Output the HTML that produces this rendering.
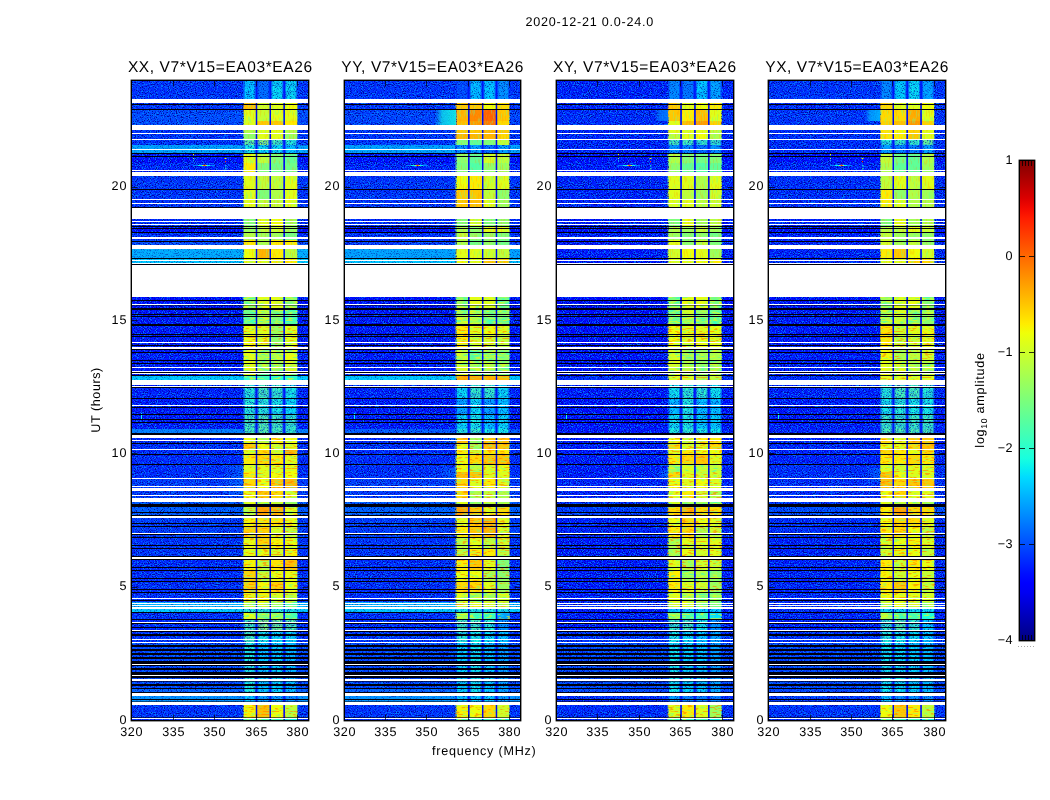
<!DOCTYPE html>
<html><head><meta charset="utf-8"><title>2020-12-21 0.0-24.0</title>
<style>
html,body{margin:0;padding:0;background:#fff;}
body{width:1050px;height:800px;overflow:hidden;}
svg{display:block;will-change:transform;}
text{font-family:"Liberation Sans",sans-serif;fill:#000;text-rendering:geometricPrecision;}
</style></head><body>
<svg width="1050" height="800" viewBox="0 0 1050 800">
<defs>
<filter id="nz" x="0" y="0" width="100%" height="100%" color-interpolation-filters="sRGB">
<feTurbulence type="fractalNoise" baseFrequency="0.85 0.9" numOctaves="2" seed="7"/>
<feColorMatrix type="matrix" values="2.6 0 0 0 -0.77  2.6 0 0 0 -0.77  2.6 0 0 0 -0.77  2.6 0 0 0 -0.77"/>
<feComponentTransfer>
<feFuncR type="table" tableValues="0 0 0 0 0 0 0"/>
<feFuncG type="table" tableValues="0 0 0 0.22 0.33 0.43 0.54"/>
<feFuncB type="table" tableValues="0.55 0.65 0.85 1 1 1 1"/>
<feFuncA type="table" tableValues="0.85 0.6 0.3 0 0.35 0.6 0.8"/>
</feComponentTransfer>
</filter>
<filter id="nzh" x="0" y="0" width="100%" height="100%" color-interpolation-filters="sRGB">
<feTurbulence type="fractalNoise" baseFrequency="0.16 0.7" numOctaves="2" seed="5"/>
<feColorMatrix type="matrix" values="2.6 0 0 0 -0.8  2.6 0 0 0 -0.8  2.6 0 0 0 -0.8  2.6 0 0 0 -0.8"/>
<feComponentTransfer>
<feFuncR type="table" tableValues="0.3 0.5 0.8 1 1 1 1"/>
<feFuncG type="table" tableValues="1 1 1 1 0.75 0.6 0.5"/>
<feFuncB type="table" tableValues="0.7 0.5 0.2 0 0 0 0"/>
<feFuncA type="table" tableValues="0.4 0.22 0.06 0 0.08 0.35 0.62"/>
</feComponentTransfer>
</filter>
<filter id="nzy" x="0" y="0" width="100%" height="100%" color-interpolation-filters="sRGB">
<feTurbulence type="fractalNoise" baseFrequency="0.16 0.7" numOctaves="2" seed="5"/>
<feColorMatrix type="matrix" values="2.6 0 0 0 -0.8  2.6 0 0 0 -0.8  2.6 0 0 0 -0.8  2.6 0 0 0 -0.8"/>
<feComponentTransfer>
<feFuncR type="table" tableValues="0 0.1 0.3 1 1 1 1"/>
<feFuncG type="table" tableValues="1 1 1 1 1 1 0.95"/>
<feFuncB type="table" tableValues="1 0.9 0.7 0 0 0 0"/>
<feFuncA type="table" tableValues="0.4 0.22 0.06 0 0.08 0.35 0.6"/>
</feComponentTransfer>
</filter>
<filter id="nzb" x="0" y="0" width="100%" height="100%" color-interpolation-filters="sRGB">
<feTurbulence type="fractalNoise" baseFrequency="0.75 0.12" numOctaves="2" seed="11"/>
<feColorMatrix type="matrix" values="2.6 0 0 0 -0.8  2.6 0 0 0 -0.8  2.6 0 0 0 -0.8  2.6 0 0 0 -0.8"/>
<feComponentTransfer>
<feFuncR type="table" tableValues="0.4 0.55 0.8 1 1 1 1"/>
<feFuncG type="table" tableValues="1 1 1 1 0.85 0.7 0.6"/>
<feFuncB type="table" tableValues="0.6 0.45 0.2 0 0 0 0"/>
<feFuncA type="table" tableValues="0.35 0.2 0.08 0 0.05 0.14 0.25"/>
</feComponentTransfer>
</filter>
<linearGradient id="cb" x1="0" y1="1" x2="0" y2="0"><stop offset="0%" stop-color="#000080"/><stop offset="2%" stop-color="#000097"/><stop offset="4%" stop-color="#0000ae"/><stop offset="6%" stop-color="#0000c5"/><stop offset="8%" stop-color="#0000dc"/><stop offset="10%" stop-color="#0000f3"/><stop offset="12%" stop-color="#0000ff"/><stop offset="14%" stop-color="#000fff"/><stop offset="16%" stop-color="#0024ff"/><stop offset="18%" stop-color="#0038ff"/><stop offset="20%" stop-color="#004dff"/><stop offset="22%" stop-color="#0061ff"/><stop offset="24%" stop-color="#0075ff"/><stop offset="26%" stop-color="#008aff"/><stop offset="28%" stop-color="#009eff"/><stop offset="30%" stop-color="#00b2ff"/><stop offset="32%" stop-color="#00c7ff"/><stop offset="34%" stop-color="#00dbff"/><stop offset="36%" stop-color="#08f0ef"/><stop offset="38%" stop-color="#19ffde"/><stop offset="40%" stop-color="#29ffce"/><stop offset="42%" stop-color="#3affbd"/><stop offset="44%" stop-color="#4affad"/><stop offset="46%" stop-color="#5aff9c"/><stop offset="48%" stop-color="#6bff8c"/><stop offset="50%" stop-color="#7bff7b"/><stop offset="52%" stop-color="#8cff6b"/><stop offset="54%" stop-color="#9cff5a"/><stop offset="56%" stop-color="#adff4a"/><stop offset="58%" stop-color="#bdff3a"/><stop offset="60%" stop-color="#ceff29"/><stop offset="62%" stop-color="#deff19"/><stop offset="64%" stop-color="#efff08"/><stop offset="66%" stop-color="#ffec00"/><stop offset="68%" stop-color="#ffd900"/><stop offset="70%" stop-color="#ffc600"/><stop offset="72%" stop-color="#ffb300"/><stop offset="74%" stop-color="#ffa100"/><stop offset="76%" stop-color="#ff8e00"/><stop offset="78%" stop-color="#ff7b00"/><stop offset="80%" stop-color="#ff6800"/><stop offset="82%" stop-color="#ff5500"/><stop offset="84%" stop-color="#ff4200"/><stop offset="86%" stop-color="#ff2f00"/><stop offset="88%" stop-color="#ff1c00"/><stop offset="90%" stop-color="#f30900"/><stop offset="92%" stop-color="#dc0000"/><stop offset="94%" stop-color="#c50000"/><stop offset="96%" stop-color="#ae0000"/><stop offset="98%" stop-color="#970000"/><stop offset="100%" stop-color="#800000"/></linearGradient>
<clipPath id="cp0"><rect x="132" y="81" width="176" height="639"/></clipPath>
<clipPath id="cp1"><rect x="345" y="81" width="175" height="639"/></clipPath>
<clipPath id="cp2"><rect x="557" y="81" width="176" height="639"/></clipPath>
<clipPath id="cp3"><rect x="769" y="81" width="176" height="639"/></clipPath>
<linearGradient id="bl1" x1="0" x2="1" y1="0" y2="0"><stop offset="0" stop-color="#10fae6" stop-opacity="0"/><stop offset="0.35" stop-color="#10fae6" stop-opacity="0.8"/><stop offset="1" stop-color="#10fae6"/></linearGradient>
<linearGradient id="bl2" x1="0" x2="1" y1="0" y2="0"><stop offset="0" stop-color="#0080ff" stop-opacity="0"/><stop offset="0.35" stop-color="#0080ff" stop-opacity="0.8"/><stop offset="1" stop-color="#0080ff"/></linearGradient>
<linearGradient id="bl3" x1="0" x2="1" y1="0" y2="0"><stop offset="0" stop-color="#00bdff" stop-opacity="0"/><stop offset="0.35" stop-color="#00bdff" stop-opacity="0.8"/><stop offset="1" stop-color="#00bdff"/></linearGradient>
<linearGradient id="glw" x1="0" x2="1" y1="0" y2="0"><stop offset="0" stop-color="#0078ff" stop-opacity="0"/><stop offset="1" stop-color="#0078ff" stop-opacity="0.75"/></linearGradient>
</defs>
<rect width="1050" height="800" fill="#fff"/>
<g clip-path="url(#cp0)">
<rect x="131" y="80" width="178" height="641" fill="#0019ff"/>
<rect x="131" y="80" width="178" height="23" fill="#002eff"/><rect x="243.3" y="80" width="12.55" height="23" fill="#00dbff"/><rect x="257.15" y="80" width="12.55" height="23" fill="#0075ff"/><rect x="271" y="80" width="12.55" height="23" fill="#08f0ef"/><rect x="284.85" y="80" width="12.55" height="23" fill="#08f0ef"/>
<rect x="131" y="103" width="178" height="7" fill="#002eff"/><rect x="243.3" y="103" width="12.55" height="7" fill="#ffbd00"/><rect x="257.15" y="103" width="12.55" height="7" fill="#ceff29"/><rect x="271" y="103" width="12.55" height="7" fill="#deff19"/><rect x="284.85" y="103" width="12.55" height="7" fill="#efff08"/>
<rect x="131" y="110" width="178" height="11" fill="#004dff"/><rect x="243.3" y="110" width="12.55" height="11" fill="#deff19"/><rect x="257.15" y="110" width="12.55" height="11" fill="#c5ff31"/><rect x="271" y="110" width="12.55" height="11" fill="#deff19"/><rect x="284.85" y="110" width="12.55" height="11" fill="#deff19"/>
<rect x="131" y="121" width="178" height="9" fill="#004dff"/><rect x="243.3" y="121" width="12.55" height="9" fill="#deff19"/><rect x="257.15" y="121" width="12.55" height="9" fill="#ffc600"/><rect x="271" y="121" width="12.55" height="9" fill="#ffc600"/><rect x="284.85" y="121" width="12.55" height="9" fill="#ffec00"/>
<rect x="131" y="130" width="178" height="4" fill="#002eff"/><rect x="243.3" y="130" width="12.55" height="4" fill="#adff4a"/><rect x="257.15" y="130" width="12.55" height="4" fill="#deff19"/><rect x="271" y="130" width="12.55" height="4" fill="#deff19"/><rect x="284.85" y="130" width="12.55" height="4" fill="#adff4a"/>
<rect x="131" y="134" width="178" height="6" fill="#002eff"/><rect x="243.3" y="134" width="12.55" height="6" fill="#8cff6b"/><rect x="257.15" y="134" width="12.55" height="6" fill="#deff19"/><rect x="271" y="134" width="12.55" height="6" fill="#deff19"/><rect x="284.85" y="134" width="12.55" height="6" fill="#9cff5a"/>
<rect x="131" y="140" width="178" height="5" fill="#002eff"/><rect x="243.3" y="140" width="12.55" height="5" fill="#6bff8c"/><rect x="257.15" y="140" width="12.55" height="5" fill="#8cff6b"/><rect x="271" y="140" width="12.55" height="5" fill="#4affad"/><rect x="284.85" y="140" width="12.55" height="5" fill="#29ffce"/>
<rect x="131" y="145" width="178" height="8" fill="#00b2ff"/><rect x="243.3" y="145" width="12.55" height="8" fill="#19ffde"/><rect x="257.15" y="145" width="12.55" height="8" fill="#08f0ef"/><rect x="271" y="145" width="12.55" height="8" fill="#08f0ef"/><rect x="284.85" y="145" width="12.55" height="8" fill="#00dbff"/>
<rect x="131" y="153" width="178" height="10" fill="#0005ff"/><rect x="243.3" y="153" width="12.55" height="10" fill="#deff19"/><rect x="257.15" y="153" width="12.55" height="10" fill="#bdff3a"/><rect x="271" y="153" width="12.55" height="10" fill="#7bff7b"/><rect x="284.85" y="153" width="12.55" height="10" fill="#5aff9c"/>
<rect x="131" y="163" width="178" height="13" fill="#0019ff"/><rect x="243.3" y="163" width="12.55" height="13" fill="#ffec00"/><rect x="257.15" y="163" width="12.55" height="13" fill="#7bff7b"/><rect x="271" y="163" width="12.55" height="13" fill="#6bff8c"/><rect x="284.85" y="163" width="12.55" height="13" fill="#6bff8c"/>
<rect x="131" y="176" width="178" height="13" fill="#002eff"/><rect x="243.3" y="176" width="12.55" height="13" fill="#deff19"/><rect x="257.15" y="176" width="12.55" height="13" fill="#bdff3a"/><rect x="271" y="176" width="12.55" height="13" fill="#bdff3a"/><rect x="284.85" y="176" width="12.55" height="13" fill="#deff19"/>
<rect x="131" y="189" width="178" height="10" fill="#002eff"/><rect x="243.3" y="189" width="12.55" height="10" fill="#deff19"/><rect x="257.15" y="189" width="12.55" height="10" fill="#7bff7b"/><rect x="271" y="189" width="12.55" height="10" fill="#adff4a"/><rect x="284.85" y="189" width="12.55" height="10" fill="#deff19"/>
<rect x="131" y="199" width="178" height="20" fill="#002eff"/><rect x="243.3" y="199" width="12.55" height="20" fill="#deff19"/><rect x="257.15" y="199" width="12.55" height="20" fill="#bdff3a"/><rect x="271" y="199" width="12.55" height="20" fill="#bdff3a"/><rect x="284.85" y="199" width="12.55" height="20" fill="#deff19"/>
<rect x="131" y="219" width="178" height="7" fill="#0024ff"/><rect x="243.3" y="219" width="12.55" height="7" fill="#7bff7b"/><rect x="257.15" y="219" width="12.55" height="7" fill="#deff19"/><rect x="271" y="219" width="12.55" height="7" fill="#efff08"/><rect x="284.85" y="219" width="12.55" height="7" fill="#9cff5a"/>
<rect x="131" y="226" width="178" height="6" fill="#0000ff"/><rect x="243.3" y="226" width="12.55" height="6" fill="#9cff5a"/><rect x="257.15" y="226" width="12.55" height="6" fill="#bdff3a"/><rect x="271" y="226" width="12.55" height="6" fill="#ceff29"/><rect x="284.85" y="226" width="12.55" height="6" fill="#9cff5a"/>
<rect x="131" y="232" width="178" height="8" fill="#0024ff"/><rect x="243.3" y="232" width="12.55" height="8" fill="#adff4a"/><rect x="257.15" y="232" width="12.55" height="8" fill="#9cff5a"/><rect x="271" y="232" width="12.55" height="8" fill="#9cff5a"/><rect x="284.85" y="232" width="12.55" height="8" fill="#6bff8c"/>
<rect x="131" y="240" width="178" height="9" fill="#004dff"/><rect x="243.3" y="240" width="12.55" height="9" fill="#ffec00"/><rect x="257.15" y="240" width="12.55" height="9" fill="#adff4a"/><rect x="271" y="240" width="12.55" height="9" fill="#ffec00"/><rect x="284.85" y="240" width="12.55" height="9" fill="#ffec00"/>
<rect x="131" y="249" width="178" height="9" fill="#00bdff"/><rect x="243.3" y="249" width="12.55" height="9" fill="#efff08"/><rect x="257.15" y="249" width="12.55" height="9" fill="#ffb300"/><rect x="271" y="249" width="12.55" height="9" fill="#ffec00"/><rect x="284.85" y="249" width="12.55" height="9" fill="#bdff3a"/>
<rect x="131" y="258" width="178" height="39" fill="#00dbff"/><rect x="243.3" y="258" width="12.55" height="39" fill="#deff19"/><rect x="257.15" y="258" width="12.55" height="39" fill="#deff19"/><rect x="271" y="258" width="12.55" height="39" fill="#ffec00"/><rect x="284.85" y="258" width="12.55" height="39" fill="#ffec00"/>
<rect x="131" y="297" width="178" height="12" fill="#0005ff"/><rect x="243.3" y="297" width="12.55" height="12" fill="#8cff6b"/><rect x="257.15" y="297" width="12.55" height="12" fill="#deff19"/><rect x="271" y="297" width="12.55" height="12" fill="#deff19"/><rect x="284.85" y="297" width="12.55" height="12" fill="#8cff6b"/>
<rect x="131" y="309" width="178" height="7" fill="#000fff"/><rect x="243.3" y="309" width="12.55" height="7" fill="#6bff8c"/><rect x="257.15" y="309" width="12.55" height="7" fill="#adff4a"/><rect x="271" y="309" width="12.55" height="7" fill="#7bff7b"/><rect x="284.85" y="309" width="12.55" height="7" fill="#5aff9c"/>
<rect x="131" y="316" width="178" height="9" fill="#000fff"/><rect x="243.3" y="316" width="12.55" height="9" fill="#5aff9c"/><rect x="257.15" y="316" width="12.55" height="9" fill="#adff4a"/><rect x="271" y="316" width="12.55" height="9" fill="#7bff7b"/><rect x="284.85" y="316" width="12.55" height="9" fill="#4affad"/>
<rect x="131" y="325" width="178" height="10" fill="#000fff"/><rect x="243.3" y="325" width="12.55" height="10" fill="#e6ff10"/><rect x="257.15" y="325" width="12.55" height="10" fill="#deff19"/><rect x="271" y="325" width="12.55" height="10" fill="#9cff5a"/><rect x="284.85" y="325" width="12.55" height="10" fill="#deff19"/>
<rect x="131" y="335" width="178" height="14" fill="#000fff"/><rect x="243.3" y="335" width="12.55" height="14" fill="#efff08"/><rect x="257.15" y="335" width="12.55" height="14" fill="#deff19"/><rect x="271" y="335" width="12.55" height="14" fill="#8cff6b"/><rect x="284.85" y="335" width="12.55" height="14" fill="#deff19"/>
<rect x="131" y="349" width="178" height="11" fill="#000fff"/><rect x="243.3" y="349" width="12.55" height="11" fill="#deff19"/><rect x="257.15" y="349" width="12.55" height="11" fill="#adff4a"/><rect x="271" y="349" width="12.55" height="11" fill="#adff4a"/><rect x="284.85" y="349" width="12.55" height="11" fill="#deff19"/>
<rect x="131" y="360" width="178" height="15" fill="#000fff"/><rect x="243.3" y="360" width="12.55" height="15" fill="#deff19"/><rect x="257.15" y="360" width="12.55" height="15" fill="#9cff5a"/><rect x="271" y="360" width="12.55" height="15" fill="#9cff5a"/><rect x="284.85" y="360" width="12.55" height="15" fill="#ceff29"/>
<rect x="131" y="375" width="178" height="10" fill="#00dbff"/><rect x="243.3" y="375" width="12.55" height="10" fill="#3affbd"/><rect x="257.15" y="375" width="12.55" height="10" fill="#3affbd"/><rect x="271" y="375" width="12.55" height="10" fill="#29ffce"/><rect x="284.85" y="375" width="12.55" height="10" fill="#29ffce"/>
<rect x="131" y="385" width="178" height="13" fill="#0019ff"/><rect x="243.3" y="385" width="12.55" height="13" fill="#29ffce"/><rect x="257.15" y="385" width="12.55" height="13" fill="#4affad"/><rect x="271" y="385" width="12.55" height="13" fill="#3affbd"/><rect x="284.85" y="385" width="12.55" height="13" fill="#19ffde"/>
<rect x="131" y="398" width="178" height="16" fill="#000fff"/><rect x="243.3" y="398" width="12.55" height="16" fill="#29ffce"/><rect x="257.15" y="398" width="12.55" height="16" fill="#29ffce"/><rect x="271" y="398" width="12.55" height="16" fill="#19ffde"/><rect x="284.85" y="398" width="12.55" height="16" fill="#08f0ef"/>
<rect x="131" y="414" width="178" height="15" fill="#000fff"/><rect x="243.3" y="414" width="12.55" height="15" fill="#4affad"/><rect x="257.15" y="414" width="12.55" height="15" fill="#5aff9c"/><rect x="271" y="414" width="12.55" height="15" fill="#4affad"/><rect x="284.85" y="414" width="12.55" height="15" fill="#3affbd"/>
<rect x="131" y="429" width="178" height="9" fill="#008aff"/><rect x="243.3" y="429" width="12.55" height="9" fill="#4affad"/><rect x="257.15" y="429" width="12.55" height="9" fill="#5aff9c"/><rect x="271" y="429" width="12.55" height="9" fill="#4affad"/><rect x="284.85" y="429" width="12.55" height="9" fill="#3affbd"/>
<rect x="131" y="438" width="178" height="5" fill="#0024ff"/><rect x="243.3" y="438" width="12.55" height="5" fill="#efff08"/><rect x="257.15" y="438" width="12.55" height="5" fill="#bdff3a"/><rect x="271" y="438" width="12.55" height="5" fill="#ffec00"/><rect x="284.85" y="438" width="12.55" height="5" fill="#efff08"/>
<rect x="131" y="443" width="178" height="6" fill="#0024ff"/><rect x="243.3" y="443" width="12.55" height="6" fill="#ffc600"/><rect x="257.15" y="443" width="12.55" height="6" fill="#efff08"/><rect x="271" y="443" width="12.55" height="6" fill="#ceff29"/><rect x="284.85" y="443" width="12.55" height="6" fill="#deff19"/>
<rect x="131" y="449" width="178" height="5" fill="#0024ff"/><rect x="243.3" y="449" width="12.55" height="5" fill="#deff19"/><rect x="257.15" y="449" width="12.55" height="5" fill="#ffd900"/><rect x="271" y="449" width="12.55" height="5" fill="#ceff29"/><rect x="284.85" y="449" width="12.55" height="5" fill="#ffb300"/>
<rect x="131" y="454" width="178" height="10" fill="#0024ff"/><rect x="243.3" y="454" width="12.55" height="10" fill="#ffec00"/><rect x="257.15" y="454" width="12.55" height="10" fill="#ffd900"/><rect x="271" y="454" width="12.55" height="10" fill="#ffec00"/><rect x="284.85" y="454" width="12.55" height="10" fill="#deff19"/>
<rect x="131" y="464" width="178" height="8" fill="#0024ff"/><rect x="243.3" y="464" width="12.55" height="8" fill="#deff19"/><rect x="257.15" y="464" width="12.55" height="8" fill="#deff19"/><rect x="271" y="464" width="12.55" height="8" fill="#deff19"/><rect x="284.85" y="464" width="12.55" height="8" fill="#efff08"/>
<rect x="131" y="472" width="178" height="6" fill="#0024ff"/><rect x="243.3" y="472" width="12.55" height="6" fill="#ffec00"/><rect x="257.15" y="472" width="12.55" height="6" fill="#deff19"/><rect x="271" y="472" width="12.55" height="6" fill="#efff08"/><rect x="284.85" y="472" width="12.55" height="6" fill="#efff08"/>
<rect x="131" y="478" width="178" height="10" fill="#0038ff"/><rect x="243.3" y="478" width="12.55" height="10" fill="#ffd900"/><rect x="257.15" y="478" width="12.55" height="10" fill="#efff08"/><rect x="271" y="478" width="12.55" height="10" fill="#ffc600"/><rect x="284.85" y="478" width="12.55" height="10" fill="#ffb300"/>
<rect x="131" y="488" width="178" height="10" fill="#0038ff"/><rect x="243.3" y="488" width="12.55" height="10" fill="#efff08"/><rect x="257.15" y="488" width="12.55" height="10" fill="#ffc600"/><rect x="271" y="488" width="12.55" height="10" fill="#ffd900"/><rect x="284.85" y="488" width="12.55" height="10" fill="#deff19"/>
<rect x="131" y="498" width="178" height="7" fill="#0061ff"/><rect x="243.3" y="498" width="12.55" height="7" fill="#deff19"/><rect x="257.15" y="498" width="12.55" height="7" fill="#bdff3a"/><rect x="271" y="498" width="12.55" height="7" fill="#bdff3a"/><rect x="284.85" y="498" width="12.55" height="7" fill="#8cff6b"/>
<rect x="131" y="505" width="178" height="10" fill="#0061ff"/><rect x="243.3" y="505" width="12.55" height="10" fill="#bdff3a"/><rect x="257.15" y="505" width="12.55" height="10" fill="#ffa100"/><rect x="271" y="505" width="12.55" height="10" fill="#ffb300"/><rect x="284.85" y="505" width="12.55" height="10" fill="#deff19"/>
<rect x="131" y="515" width="178" height="11" fill="#0038ff"/><rect x="243.3" y="515" width="12.55" height="11" fill="#f7f600"/><rect x="257.15" y="515" width="12.55" height="11" fill="#ffe300"/><rect x="271" y="515" width="12.55" height="11" fill="#ffe300"/><rect x="284.85" y="515" width="12.55" height="11" fill="#e6ff10"/>
<rect x="131" y="526" width="178" height="11" fill="#0038ff"/><rect x="243.3" y="526" width="12.55" height="11" fill="#ffd000"/><rect x="257.15" y="526" width="12.55" height="11" fill="#ffd000"/><rect x="271" y="526" width="12.55" height="11" fill="#d6ff21"/><rect x="284.85" y="526" width="12.55" height="11" fill="#c5ff31"/>
<rect x="131" y="537" width="178" height="11" fill="#002eff"/><rect x="243.3" y="537" width="12.55" height="11" fill="#e6ff10"/><rect x="257.15" y="537" width="12.55" height="11" fill="#ffd000"/><rect x="271" y="537" width="12.55" height="11" fill="#f7f600"/><rect x="284.85" y="537" width="12.55" height="11" fill="#e6ff10"/>
<rect x="131" y="548" width="178" height="11" fill="#002eff"/><rect x="243.3" y="548" width="12.55" height="11" fill="#e6ff10"/><rect x="257.15" y="548" width="12.55" height="11" fill="#e6ff10"/><rect x="271" y="548" width="12.55" height="11" fill="#d6ff21"/><rect x="284.85" y="548" width="12.55" height="11" fill="#f7f600"/>
<rect x="131" y="559" width="178" height="11" fill="#0024ff"/><rect x="243.3" y="559" width="12.55" height="11" fill="#f7f600"/><rect x="257.15" y="559" width="12.55" height="11" fill="#c5ff31"/><rect x="271" y="559" width="12.55" height="11" fill="#ffe300"/><rect x="284.85" y="559" width="12.55" height="11" fill="#ffbd00"/>
<rect x="131" y="570" width="178" height="11" fill="#0024ff"/><rect x="243.3" y="570" width="12.55" height="11" fill="#ffd000"/><rect x="257.15" y="570" width="12.55" height="11" fill="#c5ff31"/><rect x="271" y="570" width="12.55" height="11" fill="#e6ff10"/><rect x="284.85" y="570" width="12.55" height="11" fill="#e6ff10"/>
<rect x="131" y="581" width="178" height="11" fill="#0024ff"/><rect x="243.3" y="581" width="12.55" height="11" fill="#ffd000"/><rect x="257.15" y="581" width="12.55" height="11" fill="#f7f600"/><rect x="271" y="581" width="12.55" height="11" fill="#ffd000"/><rect x="284.85" y="581" width="12.55" height="11" fill="#e6ff10"/>
<rect x="131" y="592" width="178" height="10" fill="#0024ff"/><rect x="243.3" y="592" width="12.55" height="10" fill="#e6ff10"/><rect x="257.15" y="592" width="12.55" height="10" fill="#f7f600"/><rect x="271" y="592" width="12.55" height="10" fill="#d6ff21"/><rect x="284.85" y="592" width="12.55" height="10" fill="#c5ff31"/>
<rect x="131" y="602" width="178" height="7" fill="#00c7ff"/><rect x="243.3" y="602" width="12.55" height="7" fill="#adff4a"/><rect x="257.15" y="602" width="12.55" height="7" fill="#ceff29"/><rect x="271" y="602" width="12.55" height="7" fill="#8cff6b"/><rect x="284.85" y="602" width="12.55" height="7" fill="#6bff8c"/>
<rect x="131" y="609" width="178" height="3" fill="#00dbff"/><rect x="243.3" y="609" width="12.55" height="3" fill="#29ffce"/><rect x="257.15" y="609" width="12.55" height="3" fill="#29ffce"/><rect x="271" y="609" width="12.55" height="3" fill="#29ffce"/><rect x="284.85" y="609" width="12.55" height="3" fill="#19ffde"/>
<rect x="131" y="612" width="178" height="8" fill="#0024ff"/><rect x="243.3" y="612" width="12.55" height="8" fill="#deff19"/><rect x="257.15" y="612" width="12.55" height="8" fill="#8cff6b"/><rect x="271" y="612" width="12.55" height="8" fill="#8cff6b"/><rect x="284.85" y="612" width="12.55" height="8" fill="#4affad"/>
<rect x="131" y="620" width="178" height="11" fill="#0024ff"/><rect x="243.3" y="620" width="12.55" height="11" fill="#4affad"/><rect x="257.15" y="620" width="12.55" height="11" fill="#8cff6b"/><rect x="271" y="620" width="12.55" height="11" fill="#7bff7b"/><rect x="284.85" y="620" width="12.55" height="11" fill="#5aff9c"/>
<rect x="131" y="631" width="178" height="12" fill="#002eff"/><rect x="243.3" y="631" width="12.55" height="12" fill="#4affad"/><rect x="257.15" y="631" width="12.55" height="12" fill="#19ffde"/><rect x="271" y="631" width="12.55" height="12" fill="#08f0ef"/><rect x="284.85" y="631" width="12.55" height="12" fill="#08f0ef"/>
<rect x="131" y="643" width="178" height="50" fill="#0048ff"/><rect x="243.3" y="643" width="12.55" height="50" fill="#21ffd6"/><rect x="257.15" y="643" width="12.55" height="50" fill="#00dbff"/><rect x="271" y="643" width="12.55" height="50" fill="#00e5f7"/><rect x="284.85" y="643" width="12.55" height="50" fill="#00d1ff"/>
<rect x="131" y="693" width="178" height="12" fill="#009eff"/><rect x="243.3" y="693" width="12.55" height="12" fill="#00dbff"/><rect x="257.15" y="693" width="12.55" height="12" fill="#00b2ff"/><rect x="271" y="693" width="12.55" height="12" fill="#00b2ff"/><rect x="284.85" y="693" width="12.55" height="12" fill="#009eff"/>
<rect x="131" y="705" width="178" height="14" fill="#002eff"/><rect x="243.3" y="705" width="12.55" height="14" fill="#f7f600"/><rect x="257.15" y="705" width="12.55" height="14" fill="#ffbd00"/><rect x="271" y="705" width="12.55" height="14" fill="#efff08"/><rect x="284.85" y="705" width="12.55" height="14" fill="#bdff3a"/>
<rect x="131" y="719" width="178" height="1" fill="#0024ff"/><rect x="243.3" y="719" width="12.55" height="1" fill="#4affad"/><rect x="257.15" y="719" width="12.55" height="1" fill="#3affbd"/><rect x="271" y="719" width="12.55" height="1" fill="#3affbd"/><rect x="284.85" y="719" width="12.55" height="1" fill="#08f0ef"/>
<rect x="131" y="689" width="112" height="3" fill="#006bff"/><rect x="298" y="689" width="11" height="3" fill="#006bff"/>
<rect x="223" y="465" width="20" height="32" fill="url(#glw)"/><rect x="131" y="80" width="112.05" height="641" filter="url(#nz)"/>
<rect x="297.4" y="80" width="11.6" height="641" filter="url(#nz)"/>
<rect x="243.3" y="99" width="54.1" height="41" filter="url(#nzb)"/>
<rect x="243.3" y="153" width="54.1" height="144" filter="url(#nzb)"/>
<rect x="243.3" y="297" width="54.1" height="12" filter="url(#nzy)"/>
<rect x="243.3" y="309" width="54.1" height="7" filter="url(#nzy)"/>
<rect x="243.3" y="316" width="54.1" height="9" filter="url(#nzy)"/>
<rect x="243.3" y="325" width="54.1" height="10" filter="url(#nzh)"/>
<rect x="243.3" y="335" width="54.1" height="14" filter="url(#nzh)"/>
<rect x="243.3" y="349" width="54.1" height="11" filter="url(#nzy)"/>
<rect x="243.3" y="360" width="54.1" height="15" filter="url(#nzy)"/>
<rect x="243.3" y="375" width="54.1" height="10" filter="url(#nzy)"/>
<rect x="243.3" y="434" width="54.1" height="4" filter="url(#nzy)"/>
<rect x="243.3" y="438" width="54.1" height="5" filter="url(#nzh)"/>
<rect x="243.3" y="443" width="54.1" height="6" filter="url(#nzh)"/>
<rect x="243.3" y="449" width="54.1" height="5" filter="url(#nzh)"/>
<rect x="243.3" y="454" width="54.1" height="10" filter="url(#nzh)"/>
<rect x="243.3" y="464" width="54.1" height="8" filter="url(#nzh)"/>
<rect x="243.3" y="472" width="54.1" height="6" filter="url(#nzh)"/>
<rect x="243.3" y="478" width="54.1" height="10" filter="url(#nzh)"/>
<rect x="243.3" y="488" width="54.1" height="10" filter="url(#nzh)"/>
<rect x="243.3" y="498" width="54.1" height="7" filter="url(#nzy)"/>
<rect x="243.3" y="505" width="54.1" height="10" filter="url(#nzh)"/>
<rect x="243.3" y="515" width="54.1" height="11" filter="url(#nzh)"/>
<rect x="243.3" y="526" width="54.1" height="11" filter="url(#nzh)"/>
<rect x="243.3" y="537" width="54.1" height="11" filter="url(#nzh)"/>
<rect x="243.3" y="548" width="54.1" height="11" filter="url(#nzh)"/>
<rect x="243.3" y="559" width="54.1" height="11" filter="url(#nzh)"/>
<rect x="243.3" y="570" width="54.1" height="11" filter="url(#nzh)"/>
<rect x="243.3" y="581" width="54.1" height="11" filter="url(#nzh)"/>
<rect x="243.3" y="592" width="54.1" height="10" filter="url(#nzh)"/>
<rect x="243.3" y="602" width="54.1" height="7" filter="url(#nzy)"/>
<rect x="243.3" y="612" width="54.1" height="8" filter="url(#nzy)"/>
<rect x="243.3" y="705" width="54.1" height="14" filter="url(#nzh)"/>
<rect x="243.3" y="719" width="54.1" height="1" filter="url(#nzy)"/>
<rect x="131" y="145" width="112.3" height="8" fill="#00b2ff" opacity="0.45"/><rect x="297.4" y="145" width="11.6" height="8" fill="#00b2ff" opacity="0.45"/>
<rect x="131" y="249" width="112.3" height="9" fill="#00bdff" opacity="0.45"/><rect x="297.4" y="249" width="11.6" height="9" fill="#00bdff" opacity="0.45"/>
<rect x="131" y="258" width="112.3" height="39" fill="#00dbff" opacity="0.45"/><rect x="297.4" y="258" width="11.6" height="39" fill="#00dbff" opacity="0.45"/>
<rect x="131" y="375" width="112.3" height="10" fill="#00dbff" opacity="0.45"/><rect x="297.4" y="375" width="11.6" height="10" fill="#00dbff" opacity="0.45"/>
<rect x="131" y="429" width="112.3" height="9" fill="#008aff" opacity="0.45"/><rect x="297.4" y="429" width="11.6" height="9" fill="#008aff" opacity="0.45"/>
<rect x="131" y="602" width="112.3" height="7" fill="#00c7ff" opacity="0.45"/><rect x="297.4" y="602" width="11.6" height="7" fill="#00c7ff" opacity="0.45"/>
<rect x="131" y="609" width="112.3" height="3" fill="#00dbff" opacity="0.45"/><rect x="297.4" y="609" width="11.6" height="3" fill="#00dbff" opacity="0.45"/>
<rect x="131" y="693" width="112.3" height="12" fill="#009eff" opacity="0.45"/><rect x="297.4" y="693" width="11.6" height="12" fill="#009eff" opacity="0.45"/>
<rect x="243.3" y="80" width="54.1" height="19" filter="url(#nz)" opacity="0.75"/>
<rect x="243.3" y="140" width="54.1" height="13" filter="url(#nz)" opacity="0.75"/>
<rect x="243.3" y="385" width="54.1" height="49" filter="url(#nz)" opacity="0.75"/>
<rect x="243.3" y="609" width="54.1" height="3" filter="url(#nz)" opacity="0.75"/>
<rect x="243.3" y="620" width="54.1" height="85" filter="url(#nz)" opacity="0.75"/>
<rect x="255.85" y="80" width="1.3" height="640" fill="#0008f0"/><rect x="269.7" y="80" width="1.3" height="640" fill="#0008f0"/><rect x="283.55" y="80" width="1.3" height="640" fill="#0008f0"/>
<rect x="254.55" y="80" width="3.9" height="19" fill="#0020ff" opacity="0.55"/><rect x="268.4" y="80" width="3.9" height="19" fill="#0020ff" opacity="0.55"/><rect x="282.25" y="80" width="3.9" height="19" fill="#0020ff" opacity="0.55"/><rect x="243.3" y="80" width="1.5" height="19" fill="#0020ff" opacity="0.5"/><rect x="295.9" y="80" width="1.5" height="19" fill="#0020ff" opacity="0.5"/><rect x="254.55" y="140" width="3.9" height="13" fill="#0020ff" opacity="0.55"/><rect x="268.4" y="140" width="3.9" height="13" fill="#0020ff" opacity="0.55"/><rect x="282.25" y="140" width="3.9" height="13" fill="#0020ff" opacity="0.55"/><rect x="243.3" y="140" width="1.5" height="13" fill="#0020ff" opacity="0.5"/><rect x="295.9" y="140" width="1.5" height="13" fill="#0020ff" opacity="0.5"/><rect x="254.55" y="385" width="3.9" height="49" fill="#0020ff" opacity="0.55"/><rect x="268.4" y="385" width="3.9" height="49" fill="#0020ff" opacity="0.55"/><rect x="282.25" y="385" width="3.9" height="49" fill="#0020ff" opacity="0.55"/><rect x="243.3" y="385" width="1.5" height="49" fill="#0020ff" opacity="0.5"/><rect x="295.9" y="385" width="1.5" height="49" fill="#0020ff" opacity="0.5"/><rect x="254.55" y="620" width="3.9" height="85" fill="#0020ff" opacity="0.55"/><rect x="268.4" y="620" width="3.9" height="85" fill="#0020ff" opacity="0.55"/><rect x="282.25" y="620" width="3.9" height="85" fill="#0020ff" opacity="0.55"/><rect x="243.3" y="620" width="1.5" height="85" fill="#0020ff" opacity="0.5"/><rect x="295.9" y="620" width="1.5" height="85" fill="#0020ff" opacity="0.5"/>
<rect x="141" y="413" width="1" height="1" fill="#08f0ef"/><rect x="141" y="415" width="1" height="4" fill="#10fae6"/><rect x="193" y="165" width="22" height="1" fill="#0080ff"/><rect x="198" y="165" width="12" height="1" fill="#08f0ef"/><rect x="202" y="165" width="5" height="1" fill="#adff4a"/><rect x="203.6" y="164.7" width="1.8" height="1.4" fill="#ff2600"/><rect x="193" y="154" width="1" height="1.2" fill="#deff19"/><rect x="193" y="158" width="1" height="1" fill="#8cff6b"/><rect x="193" y="160.3" width="1" height="1" fill="#08f0ef"/><rect x="224.5" y="158" width="2" height="1" fill="#ceff29"/><rect x="225" y="161" width="1" height="1.2" fill="#ff4200"/><rect x="225.3" y="165" width="1" height="1.6" fill="#19ffde"/><rect x="225.3" y="168" width="1" height="1.6" fill="#3affbd"/>
<rect x="131" y="104" width="178" height="1" fill="#00000c"/><rect x="131" y="109" width="178" height="1" fill="#00000c"/><rect x="131" y="153" width="178" height="1" fill="#00000c"/><rect x="131" y="156" width="178" height="1" fill="#00000c"/><rect x="131" y="189" width="178" height="1" fill="#00000c"/><rect x="131" y="207" width="178" height="1" fill="#00000c"/><rect x="131" y="226" width="178" height="1" fill="#00000c"/><rect x="131" y="228" width="178" height="1" fill="#00000c"/><rect x="131" y="232" width="178" height="1" fill="#00000c"/><rect x="131" y="241" width="178" height="1" fill="#00000c"/><rect x="131" y="258" width="178" height="1" fill="#00000c"/><rect x="131" y="264" width="178" height="1" fill="#00000c"/><rect x="131" y="300" width="178" height="1" fill="#00000c"/><rect x="131" y="305" width="178" height="0.5" fill="#00000c"/><rect x="131" y="308" width="178" height="2" fill="#00000c"/><rect x="131" y="314" width="178" height="1" fill="#00000c"/><rect x="131" y="316" width="178" height="1" fill="#00000c"/><rect x="131" y="324" width="178" height="2" fill="#00000c"/><rect x="131" y="334" width="178" height="1" fill="#00000c"/><rect x="131" y="336" width="178" height="1" fill="#00000c"/><rect x="131" y="345" width="178" height="1" fill="#00000c"/><rect x="131" y="349" width="178" height="1" fill="#00000c"/><rect x="131" y="352" width="178" height="1" fill="#00000c"/><rect x="131" y="360" width="178" height="1" fill="#00000c"/><rect x="131" y="363" width="178" height="1" fill="#00000c"/><rect x="131" y="372" width="178" height="1" fill="#00000c"/><rect x="131" y="375" width="178" height="1" fill="#00000c"/><rect x="131" y="387" width="178" height="1" fill="#00000c"/><rect x="131" y="398" width="178" height="1" fill="#00000c"/><rect x="131" y="407" width="178" height="1" fill="#00000c"/><rect x="131" y="414" width="178" height="1" fill="#00000c"/><rect x="131" y="419" width="178" height="1" fill="#00000c"/><rect x="131" y="422" width="178" height="1" fill="#00000c"/><rect x="131" y="433" width="178" height="2" fill="#00000c"/><rect x="131" y="443" width="178" height="1" fill="#00000c"/><rect x="131" y="454" width="178" height="1" fill="#00000c"/><rect x="131" y="464" width="178" height="1" fill="#00000c"/><rect x="131" y="504" width="178" height="3" fill="#00000c"/><rect x="131" y="512" width="178" height="1" fill="#00000c"/><rect x="131" y="515" width="178" height="1" fill="#00000c"/><rect x="131" y="523" width="178" height="1" fill="#00000c"/><rect x="131" y="526" width="178" height="1" fill="#00000c"/><rect x="131" y="534" width="178" height="1" fill="#00000c"/><rect x="131" y="537" width="178" height="1" fill="#00000c"/><rect x="131" y="545" width="178" height="1" fill="#00000c"/><rect x="131" y="548" width="178" height="1" fill="#00000c"/><rect x="131" y="556" width="178" height="1" fill="#00000c"/><rect x="131" y="559" width="178" height="1" fill="#00000c"/><rect x="131" y="567" width="178" height="1" fill="#00000c"/><rect x="131" y="570" width="178" height="1" fill="#00000c"/><rect x="131" y="578" width="178" height="1" fill="#00000c"/><rect x="131" y="581" width="178" height="1" fill="#00000c"/><rect x="131" y="589" width="178" height="1" fill="#00000c"/><rect x="131" y="592" width="178" height="1" fill="#00000c"/><rect x="131" y="600" width="178" height="1" fill="#00000c"/><rect x="131" y="612" width="178" height="1" fill="#00000c"/><rect x="131" y="619" width="178" height="1" fill="#00000c"/><rect x="131" y="623" width="178" height="1" fill="#00000c"/><rect x="131" y="627" width="178" height="1" fill="#00000c"/><rect x="131" y="631" width="178" height="1" fill="#00000c"/><rect x="131" y="634" width="178" height="2" fill="#00000c"/><rect x="131" y="645" width="178" height="2" fill="#00000c"/><rect x="131" y="649" width="178" height="2" fill="#00000c"/><rect x="131" y="653" width="178" height="2" fill="#00000c"/><rect x="131" y="657" width="178" height="2" fill="#00000c"/><rect x="131" y="661" width="178" height="3" fill="#00000c"/><rect x="131" y="665" width="178" height="1" fill="#00000c"/><rect x="131" y="668" width="178" height="2" fill="#00000c"/><rect x="131" y="672" width="178" height="3" fill="#00000c"/><rect x="131" y="676" width="178" height="2" fill="#00000c"/><rect x="131" y="681" width="178" height="0.6" fill="#00000c"/><rect x="131" y="684" width="178" height="2" fill="#00000c"/><rect x="131" y="688" width="178" height="1" fill="#00000c"/><rect x="131" y="692" width="178" height="1" fill="#00000c"/><rect x="131" y="699" width="178" height="1" fill="#00000c"/><rect x="131" y="701.5" width="178" height="0.5" fill="#00000c"/><rect x="131" y="717.4" width="178" height="0.6" fill="#00000c"/>
<rect x="131" y="99" width="178" height="4" fill="#fff"/><rect x="131" y="125" width="178" height="5" fill="#fff"/><rect x="131" y="133" width="178" height="1" fill="#fff"/><rect x="131" y="139" width="178" height="1" fill="#fff"/><rect x="131" y="149" width="178" height="1" fill="#fff"/><rect x="131" y="170" width="178" height="1" fill="#fff"/><rect x="131" y="172" width="178" height="4" fill="#fff"/><rect x="131" y="199" width="178" height="1" fill="#fff"/><rect x="131" y="203" width="178" height="1" fill="#fff"/><rect x="131" y="208" width="178" height="11" fill="#fff"/><rect x="131" y="221" width="178" height="1" fill="#fff"/><rect x="131" y="224" width="178" height="1" fill="#fff"/><rect x="131" y="237" width="178" height="2" fill="#fff"/><rect x="131" y="245" width="178" height="4" fill="#fff"/><rect x="131" y="260" width="178" height="1" fill="#fff"/><rect x="131" y="263" width="178" height="1" fill="#fff"/><rect x="131" y="265" width="178" height="32" fill="#fff"/><rect x="131" y="304" width="178" height="1" fill="#fff"/><rect x="131" y="342" width="178" height="1" fill="#fff"/><rect x="131" y="347" width="178" height="2" fill="#fff"/><rect x="131" y="367" width="178" height="1" fill="#fff"/><rect x="131" y="371" width="178" height="1" fill="#fff"/><rect x="131" y="373" width="178" height="1" fill="#fff"/><rect x="131" y="380" width="178" height="5" fill="#fff"/><rect x="131" y="386" width="178" height="1" fill="#fff"/><rect x="131" y="405" width="178" height="1" fill="#fff"/><rect x="131" y="435" width="178" height="3" fill="#fff"/><rect x="131" y="440" width="178" height="1" fill="#fff"/><rect x="131" y="449" width="178" height="1" fill="#fff"/><rect x="131" y="478" width="178" height="1" fill="#fff"/><rect x="131" y="486" width="178" height="1" fill="#fff"/><rect x="131" y="488" width="178" height="3" fill="#fff"/><rect x="131" y="495" width="178" height="1" fill="#fff"/><rect x="131" y="498" width="178" height="4" fill="#fff"/><rect x="131" y="516" width="178" height="2" fill="#fff"/><rect x="131" y="533" width="178" height="1" fill="#fff"/><rect x="131" y="557" width="178" height="2" fill="#fff"/><rect x="131" y="598" width="178" height="1" fill="#fff"/><rect x="131" y="603" width="178" height="1" fill="#fff"/><rect x="131" y="605" width="178" height="1" fill="#fff"/><rect x="131" y="607" width="178" height="2" fill="#fff"/><rect x="131" y="622" width="178" height="1" fill="#fff"/><rect x="131" y="630" width="178" height="1" fill="#fff"/><rect x="131" y="639" width="178" height="1" fill="#fff"/><rect x="131" y="642" width="178" height="1" fill="#fff"/><rect x="131" y="664" width="178" height="1" fill="#fff"/><rect x="131" y="675" width="178" height="1" fill="#fff"/><rect x="131" y="679" width="178" height="2" fill="#fff"/><rect x="131" y="693" width="178" height="3" fill="#fff"/><rect x="131" y="702" width="178" height="3" fill="#fff"/><rect x="131" y="718" width="178" height="1" fill="#fff"/>
</g>
<rect x="131.3" y="80.3" width="177.4" height="640.4" fill="none" stroke="#000" stroke-width="1.4"/>
<path d="M131.5 720v-5.5M131.5 81v5.5M173.5 720v-5.5M173.5 81v5.5M214.5 720v-5.5M214.5 81v5.5M256.5 720v-5.5M256.5 81v5.5M297.5 720v-5.5M297.5 81v5.5M132 720.5h5.5M308 720.5h-5.5M132 587.5h5.5M308 587.5h-5.5M132 453.5h5.5M308 453.5h-5.5M132 320.5h5.5M308 320.5h-5.5M132 187.5h5.5M308 187.5h-5.5" stroke="#000" stroke-width="0.7" fill="none"/>
<text x="131.7" y="736" font-size="12.6" text-anchor="middle" letter-spacing="0.7">320</text><text x="173.7" y="736" font-size="12.6" text-anchor="middle" letter-spacing="0.7">335</text><text x="214.7" y="736" font-size="12.6" text-anchor="middle" letter-spacing="0.7">350</text><text x="256.7" y="736" font-size="12.6" text-anchor="middle" letter-spacing="0.7">365</text><text x="297.7" y="736" font-size="12.6" text-anchor="middle" letter-spacing="0.7">380</text>
<text x="127.4" y="724" font-size="12.6" text-anchor="end" letter-spacing="0.9">0</text><text x="127.4" y="590" font-size="12.6" text-anchor="end" letter-spacing="0.9">5</text><text x="127.4" y="457" font-size="12.6" text-anchor="end" letter-spacing="0.9">10</text><text x="127.4" y="324" font-size="12.6" text-anchor="end" letter-spacing="0.9">15</text><text x="127.4" y="190" font-size="12.6" text-anchor="end" letter-spacing="0.9">20</text>
<text x="220.3" y="72" font-size="15.5" text-anchor="middle" letter-spacing="0.6">XX, V7*V15=EA03*EA26</text>
<g clip-path="url(#cp1)">
<rect x="344" y="80" width="177" height="641" fill="#0019ff"/>
<rect x="344" y="80" width="177" height="23" fill="#002eff"/><rect x="455.58" y="80" width="12.55" height="23" fill="#004dff"/><rect x="469.43" y="80" width="12.55" height="23" fill="#00d1ff"/><rect x="483.28" y="80" width="12.55" height="23" fill="#00dbff"/><rect x="497.13" y="80" width="12.55" height="23" fill="#009eff"/>
<rect x="344" y="103" width="177" height="7" fill="#002eff"/><rect x="455.58" y="103" width="12.55" height="7" fill="#ffc600"/><rect x="469.43" y="103" width="12.55" height="7" fill="#ffc600"/><rect x="483.28" y="103" width="12.55" height="7" fill="#efff08"/><rect x="497.13" y="103" width="12.55" height="7" fill="#ffd900"/>
<rect x="344" y="110" width="177" height="11" fill="#0042ff"/><rect x="455.58" y="110" width="12.55" height="11" fill="#ffb300"/><rect x="469.43" y="110" width="12.55" height="11" fill="#ff8400"/><rect x="483.28" y="110" width="12.55" height="11" fill="#ff5e00"/><rect x="497.13" y="110" width="12.55" height="11" fill="#ffc600"/>
<rect x="344" y="121" width="177" height="9" fill="#0042ff"/><rect x="455.58" y="121" width="12.55" height="9" fill="#ffbd00"/><rect x="469.43" y="121" width="12.55" height="9" fill="#ff9700"/><rect x="483.28" y="121" width="12.55" height="9" fill="#ff7100"/><rect x="497.13" y="121" width="12.55" height="9" fill="#ffd900"/>
<rect x="344" y="130" width="177" height="4" fill="#002eff"/><rect x="455.58" y="130" width="12.55" height="4" fill="#ffc600"/><rect x="469.43" y="130" width="12.55" height="4" fill="#ffc600"/><rect x="483.28" y="130" width="12.55" height="4" fill="#ffb300"/><rect x="497.13" y="130" width="12.55" height="4" fill="#ffc600"/>
<rect x="344" y="134" width="177" height="6" fill="#002eff"/><rect x="455.58" y="134" width="12.55" height="6" fill="#ffb300"/><rect x="469.43" y="134" width="12.55" height="6" fill="#ffb300"/><rect x="483.28" y="134" width="12.55" height="6" fill="#ffb300"/><rect x="497.13" y="134" width="12.55" height="6" fill="#ffd900"/>
<rect x="344" y="140" width="177" height="5" fill="#002eff"/><rect x="455.58" y="140" width="12.55" height="5" fill="#7bff7b"/><rect x="469.43" y="140" width="12.55" height="5" fill="#5aff9c"/><rect x="483.28" y="140" width="12.55" height="5" fill="#7bff7b"/><rect x="497.13" y="140" width="12.55" height="5" fill="#bdff3a"/>
<rect x="344" y="145" width="177" height="8" fill="#00b2ff"/><rect x="455.58" y="145" width="12.55" height="8" fill="#009eff"/><rect x="469.43" y="145" width="12.55" height="8" fill="#00b2ff"/><rect x="483.28" y="145" width="12.55" height="8" fill="#0075ff"/><rect x="497.13" y="145" width="12.55" height="8" fill="#00b2ff"/>
<rect x="344" y="153" width="177" height="10" fill="#0005ff"/><rect x="455.58" y="153" width="12.55" height="10" fill="#8cff6b"/><rect x="469.43" y="153" width="12.55" height="10" fill="#5aff9c"/><rect x="483.28" y="153" width="12.55" height="10" fill="#ceff29"/><rect x="497.13" y="153" width="12.55" height="10" fill="#bdff3a"/>
<rect x="344" y="163" width="177" height="13" fill="#0019ff"/><rect x="455.58" y="163" width="12.55" height="13" fill="#7bff7b"/><rect x="469.43" y="163" width="12.55" height="13" fill="#4affad"/><rect x="483.28" y="163" width="12.55" height="13" fill="#8cff6b"/><rect x="497.13" y="163" width="12.55" height="13" fill="#9cff5a"/>
<rect x="344" y="176" width="177" height="13" fill="#002eff"/><rect x="455.58" y="176" width="12.55" height="13" fill="#efff08"/><rect x="469.43" y="176" width="12.55" height="13" fill="#ffec00"/><rect x="483.28" y="176" width="12.55" height="13" fill="#ceff29"/><rect x="497.13" y="176" width="12.55" height="13" fill="#deff19"/>
<rect x="344" y="189" width="177" height="10" fill="#002eff"/><rect x="455.58" y="189" width="12.55" height="10" fill="#ffc600"/><rect x="469.43" y="189" width="12.55" height="10" fill="#ffc600"/><rect x="483.28" y="189" width="12.55" height="10" fill="#bdff3a"/><rect x="497.13" y="189" width="12.55" height="10" fill="#8cff6b"/>
<rect x="344" y="199" width="177" height="20" fill="#002eff"/><rect x="455.58" y="199" width="12.55" height="20" fill="#ffc600"/><rect x="469.43" y="199" width="12.55" height="20" fill="#ffbd00"/><rect x="483.28" y="199" width="12.55" height="20" fill="#deff19"/><rect x="497.13" y="199" width="12.55" height="20" fill="#9cff5a"/>
<rect x="344" y="219" width="177" height="7" fill="#0024ff"/><rect x="455.58" y="219" width="12.55" height="7" fill="#7bff7b"/><rect x="469.43" y="219" width="12.55" height="7" fill="#ceff29"/><rect x="483.28" y="219" width="12.55" height="7" fill="#7bff7b"/><rect x="497.13" y="219" width="12.55" height="7" fill="#8cff6b"/>
<rect x="344" y="226" width="177" height="6" fill="#0000ff"/><rect x="455.58" y="226" width="12.55" height="6" fill="#adff4a"/><rect x="469.43" y="226" width="12.55" height="6" fill="#8cff6b"/><rect x="483.28" y="226" width="12.55" height="6" fill="#deff19"/><rect x="497.13" y="226" width="12.55" height="6" fill="#deff19"/>
<rect x="344" y="232" width="177" height="8" fill="#0024ff"/><rect x="455.58" y="232" width="12.55" height="8" fill="#bdff3a"/><rect x="469.43" y="232" width="12.55" height="8" fill="#8cff6b"/><rect x="483.28" y="232" width="12.55" height="8" fill="#8cff6b"/><rect x="497.13" y="232" width="12.55" height="8" fill="#7bff7b"/>
<rect x="344" y="240" width="177" height="9" fill="#0038ff"/><rect x="455.58" y="240" width="12.55" height="9" fill="#adff4a"/><rect x="469.43" y="240" width="12.55" height="9" fill="#6bff8c"/><rect x="483.28" y="240" width="12.55" height="9" fill="#8cff6b"/><rect x="497.13" y="240" width="12.55" height="9" fill="#6bff8c"/>
<rect x="344" y="249" width="177" height="9" fill="#00b2ff"/><rect x="455.58" y="249" width="12.55" height="9" fill="#deff19"/><rect x="469.43" y="249" width="12.55" height="9" fill="#deff19"/><rect x="483.28" y="249" width="12.55" height="9" fill="#ceff29"/><rect x="497.13" y="249" width="12.55" height="9" fill="#bdff3a"/>
<rect x="344" y="258" width="177" height="39" fill="#00dbff"/><rect x="455.58" y="258" width="12.55" height="39" fill="#efff08"/><rect x="469.43" y="258" width="12.55" height="39" fill="#deff19"/><rect x="483.28" y="258" width="12.55" height="39" fill="#ffc600"/><rect x="497.13" y="258" width="12.55" height="39" fill="#ffc600"/>
<rect x="344" y="297" width="177" height="12" fill="#0005ff"/><rect x="455.58" y="297" width="12.55" height="12" fill="#9cff5a"/><rect x="469.43" y="297" width="12.55" height="12" fill="#deff19"/><rect x="483.28" y="297" width="12.55" height="12" fill="#deff19"/><rect x="497.13" y="297" width="12.55" height="12" fill="#7bff7b"/>
<rect x="344" y="309" width="177" height="7" fill="#000fff"/><rect x="455.58" y="309" width="12.55" height="7" fill="#9cff5a"/><rect x="469.43" y="309" width="12.55" height="7" fill="#adff4a"/><rect x="483.28" y="309" width="12.55" height="7" fill="#7bff7b"/><rect x="497.13" y="309" width="12.55" height="7" fill="#8cff6b"/>
<rect x="344" y="316" width="177" height="9" fill="#000fff"/><rect x="455.58" y="316" width="12.55" height="9" fill="#bdff3a"/><rect x="469.43" y="316" width="12.55" height="9" fill="#adff4a"/><rect x="483.28" y="316" width="12.55" height="9" fill="#6bff8c"/><rect x="497.13" y="316" width="12.55" height="9" fill="#7bff7b"/>
<rect x="344" y="325" width="177" height="10" fill="#000fff"/><rect x="455.58" y="325" width="12.55" height="10" fill="#ffec00"/><rect x="469.43" y="325" width="12.55" height="10" fill="#deff19"/><rect x="483.28" y="325" width="12.55" height="10" fill="#efff08"/><rect x="497.13" y="325" width="12.55" height="10" fill="#deff19"/>
<rect x="344" y="335" width="177" height="14" fill="#000fff"/><rect x="455.58" y="335" width="12.55" height="14" fill="#ffec00"/><rect x="469.43" y="335" width="12.55" height="14" fill="#ceff29"/><rect x="483.28" y="335" width="12.55" height="14" fill="#ceff29"/><rect x="497.13" y="335" width="12.55" height="14" fill="#bdff3a"/>
<rect x="344" y="349" width="177" height="11" fill="#000fff"/><rect x="455.58" y="349" width="12.55" height="11" fill="#bdff3a"/><rect x="469.43" y="349" width="12.55" height="11" fill="#6bff8c"/><rect x="483.28" y="349" width="12.55" height="11" fill="#9cff5a"/><rect x="497.13" y="349" width="12.55" height="11" fill="#8cff6b"/>
<rect x="344" y="360" width="177" height="15" fill="#000fff"/><rect x="455.58" y="360" width="12.55" height="15" fill="#ceff29"/><rect x="469.43" y="360" width="12.55" height="15" fill="#adff4a"/><rect x="483.28" y="360" width="12.55" height="15" fill="#adff4a"/><rect x="497.13" y="360" width="12.55" height="15" fill="#8cff6b"/>
<rect x="344" y="375" width="177" height="10" fill="#00dbff"/><rect x="455.58" y="375" width="12.55" height="10" fill="#ffaa00"/><rect x="469.43" y="375" width="12.55" height="10" fill="#ffaa00"/><rect x="483.28" y="375" width="12.55" height="10" fill="#ffb300"/><rect x="497.13" y="375" width="12.55" height="10" fill="#ffbd00"/>
<rect x="344" y="385" width="177" height="13" fill="#0019ff"/><rect x="455.58" y="385" width="12.55" height="13" fill="#08f0ef"/><rect x="469.43" y="385" width="12.55" height="13" fill="#3affbd"/><rect x="483.28" y="385" width="12.55" height="13" fill="#3affbd"/><rect x="497.13" y="385" width="12.55" height="13" fill="#08f0ef"/>
<rect x="344" y="398" width="177" height="16" fill="#000fff"/><rect x="455.58" y="398" width="12.55" height="16" fill="#00b2ff"/><rect x="469.43" y="398" width="12.55" height="16" fill="#08f0ef"/><rect x="483.28" y="398" width="12.55" height="16" fill="#00b2ff"/><rect x="497.13" y="398" width="12.55" height="16" fill="#00dbff"/>
<rect x="344" y="414" width="177" height="15" fill="#000fff"/><rect x="455.58" y="414" width="12.55" height="15" fill="#08f0ef"/><rect x="469.43" y="414" width="12.55" height="15" fill="#19ffde"/><rect x="483.28" y="414" width="12.55" height="15" fill="#00dbff"/><rect x="497.13" y="414" width="12.55" height="15" fill="#08f0ef"/>
<rect x="344" y="429" width="177" height="9" fill="#0061ff"/><rect x="455.58" y="429" width="12.55" height="9" fill="#29ffce"/><rect x="469.43" y="429" width="12.55" height="9" fill="#3affbd"/><rect x="483.28" y="429" width="12.55" height="9" fill="#19ffde"/><rect x="497.13" y="429" width="12.55" height="9" fill="#19ffde"/>
<rect x="344" y="438" width="177" height="5" fill="#0024ff"/><rect x="455.58" y="438" width="12.55" height="5" fill="#ffbd00"/><rect x="469.43" y="438" width="12.55" height="5" fill="#9cff5a"/><rect x="483.28" y="438" width="12.55" height="5" fill="#ffc600"/><rect x="497.13" y="438" width="12.55" height="5" fill="#ffbd00"/>
<rect x="344" y="443" width="177" height="6" fill="#0024ff"/><rect x="455.58" y="443" width="12.55" height="6" fill="#efff08"/><rect x="469.43" y="443" width="12.55" height="6" fill="#9cff5a"/><rect x="483.28" y="443" width="12.55" height="6" fill="#ffbd00"/><rect x="497.13" y="443" width="12.55" height="6" fill="#ffc600"/>
<rect x="344" y="449" width="177" height="5" fill="#0024ff"/><rect x="455.58" y="449" width="12.55" height="5" fill="#ffec00"/><rect x="469.43" y="449" width="12.55" height="5" fill="#ceff29"/><rect x="483.28" y="449" width="12.55" height="5" fill="#ffec00"/><rect x="497.13" y="449" width="12.55" height="5" fill="#ffec00"/>
<rect x="344" y="454" width="177" height="10" fill="#0024ff"/><rect x="455.58" y="454" width="12.55" height="10" fill="#efff08"/><rect x="469.43" y="454" width="12.55" height="10" fill="#ffd900"/><rect x="483.28" y="454" width="12.55" height="10" fill="#ffc600"/><rect x="497.13" y="454" width="12.55" height="10" fill="#ffc600"/>
<rect x="344" y="464" width="177" height="8" fill="#0024ff"/><rect x="455.58" y="464" width="12.55" height="8" fill="#efff08"/><rect x="469.43" y="464" width="12.55" height="8" fill="#bdff3a"/><rect x="483.28" y="464" width="12.55" height="8" fill="#deff19"/><rect x="497.13" y="464" width="12.55" height="8" fill="#efff08"/>
<rect x="344" y="472" width="177" height="6" fill="#0024ff"/><rect x="455.58" y="472" width="12.55" height="6" fill="#ffbd00"/><rect x="469.43" y="472" width="12.55" height="6" fill="#ffc600"/><rect x="483.28" y="472" width="12.55" height="6" fill="#deff19"/><rect x="497.13" y="472" width="12.55" height="6" fill="#deff19"/>
<rect x="344" y="478" width="177" height="10" fill="#0038ff"/><rect x="455.58" y="478" width="12.55" height="10" fill="#ffd900"/><rect x="469.43" y="478" width="12.55" height="10" fill="#deff19"/><rect x="483.28" y="478" width="12.55" height="10" fill="#ffec00"/><rect x="497.13" y="478" width="12.55" height="10" fill="#deff19"/>
<rect x="344" y="488" width="177" height="10" fill="#0038ff"/><rect x="455.58" y="488" width="12.55" height="10" fill="#ffd900"/><rect x="469.43" y="488" width="12.55" height="10" fill="#adff4a"/><rect x="483.28" y="488" width="12.55" height="10" fill="#bdff3a"/><rect x="497.13" y="488" width="12.55" height="10" fill="#adff4a"/>
<rect x="344" y="498" width="177" height="7" fill="#0061ff"/><rect x="455.58" y="498" width="12.55" height="7" fill="#deff19"/><rect x="469.43" y="498" width="12.55" height="7" fill="#8cff6b"/><rect x="483.28" y="498" width="12.55" height="7" fill="#bdff3a"/><rect x="497.13" y="498" width="12.55" height="7" fill="#9cff5a"/>
<rect x="344" y="505" width="177" height="10" fill="#006bff"/><rect x="455.58" y="505" width="12.55" height="10" fill="#ffa100"/><rect x="469.43" y="505" width="12.55" height="10" fill="#ffc600"/><rect x="483.28" y="505" width="12.55" height="10" fill="#deff19"/><rect x="497.13" y="505" width="12.55" height="10" fill="#ffd900"/>
<rect x="344" y="515" width="177" height="11" fill="#0038ff"/><rect x="455.58" y="515" width="12.55" height="11" fill="#deff19"/><rect x="469.43" y="515" width="12.55" height="11" fill="#ffc600"/><rect x="483.28" y="515" width="12.55" height="11" fill="#ffb300"/><rect x="497.13" y="515" width="12.55" height="11" fill="#deff19"/>
<rect x="344" y="526" width="177" height="11" fill="#0038ff"/><rect x="455.58" y="526" width="12.55" height="11" fill="#ffec00"/><rect x="469.43" y="526" width="12.55" height="11" fill="#ffc600"/><rect x="483.28" y="526" width="12.55" height="11" fill="#ffb300"/><rect x="497.13" y="526" width="12.55" height="11" fill="#deff19"/>
<rect x="344" y="537" width="177" height="11" fill="#002eff"/><rect x="455.58" y="537" width="12.55" height="11" fill="#bdff3a"/><rect x="469.43" y="537" width="12.55" height="11" fill="#deff19"/><rect x="483.28" y="537" width="12.55" height="11" fill="#bdff3a"/><rect x="497.13" y="537" width="12.55" height="11" fill="#ceff29"/>
<rect x="344" y="548" width="177" height="11" fill="#002eff"/><rect x="455.58" y="548" width="12.55" height="11" fill="#bdff3a"/><rect x="469.43" y="548" width="12.55" height="11" fill="#ffec00"/><rect x="483.28" y="548" width="12.55" height="11" fill="#ffec00"/><rect x="497.13" y="548" width="12.55" height="11" fill="#bdff3a"/>
<rect x="344" y="559" width="177" height="11" fill="#0024ff"/><rect x="455.58" y="559" width="12.55" height="11" fill="#ffec00"/><rect x="469.43" y="559" width="12.55" height="11" fill="#ffc600"/><rect x="483.28" y="559" width="12.55" height="11" fill="#deff19"/><rect x="497.13" y="559" width="12.55" height="11" fill="#7bff7b"/>
<rect x="344" y="570" width="177" height="11" fill="#0024ff"/><rect x="455.58" y="570" width="12.55" height="11" fill="#efff08"/><rect x="469.43" y="570" width="12.55" height="11" fill="#efff08"/><rect x="483.28" y="570" width="12.55" height="11" fill="#adff4a"/><rect x="497.13" y="570" width="12.55" height="11" fill="#8cff6b"/>
<rect x="344" y="581" width="177" height="11" fill="#0024ff"/><rect x="455.58" y="581" width="12.55" height="11" fill="#ffd900"/><rect x="469.43" y="581" width="12.55" height="11" fill="#ffd900"/><rect x="483.28" y="581" width="12.55" height="11" fill="#deff19"/><rect x="497.13" y="581" width="12.55" height="11" fill="#9cff5a"/>
<rect x="344" y="592" width="177" height="10" fill="#0024ff"/><rect x="455.58" y="592" width="12.55" height="10" fill="#deff19"/><rect x="469.43" y="592" width="12.55" height="10" fill="#9cff5a"/><rect x="483.28" y="592" width="12.55" height="10" fill="#9cff5a"/><rect x="497.13" y="592" width="12.55" height="10" fill="#ceff29"/>
<rect x="344" y="602" width="177" height="7" fill="#00c7ff"/><rect x="455.58" y="602" width="12.55" height="7" fill="#ceff29"/><rect x="469.43" y="602" width="12.55" height="7" fill="#deff19"/><rect x="483.28" y="602" width="12.55" height="7" fill="#ceff29"/><rect x="497.13" y="602" width="12.55" height="7" fill="#bdff3a"/>
<rect x="344" y="609" width="177" height="3" fill="#00dbff"/><rect x="455.58" y="609" width="12.55" height="3" fill="#19ffde"/><rect x="469.43" y="609" width="12.55" height="3" fill="#19ffde"/><rect x="483.28" y="609" width="12.55" height="3" fill="#19ffde"/><rect x="497.13" y="609" width="12.55" height="3" fill="#19ffde"/>
<rect x="344" y="612" width="177" height="8" fill="#0024ff"/><rect x="455.58" y="612" width="12.55" height="8" fill="#adff4a"/><rect x="469.43" y="612" width="12.55" height="8" fill="#4affad"/><rect x="483.28" y="612" width="12.55" height="8" fill="#3affbd"/><rect x="497.13" y="612" width="12.55" height="8" fill="#009eff"/>
<rect x="344" y="620" width="177" height="11" fill="#0024ff"/><rect x="455.58" y="620" width="12.55" height="11" fill="#4affad"/><rect x="469.43" y="620" width="12.55" height="11" fill="#4affad"/><rect x="483.28" y="620" width="12.55" height="11" fill="#29ffce"/><rect x="497.13" y="620" width="12.55" height="11" fill="#009eff"/>
<rect x="344" y="631" width="177" height="12" fill="#002eff"/><rect x="455.58" y="631" width="12.55" height="12" fill="#29ffce"/><rect x="469.43" y="631" width="12.55" height="12" fill="#19ffde"/><rect x="483.28" y="631" width="12.55" height="12" fill="#08f0ef"/><rect x="497.13" y="631" width="12.55" height="12" fill="#00dbff"/>
<rect x="344" y="643" width="177" height="50" fill="#0048ff"/><rect x="455.58" y="643" width="12.55" height="50" fill="#00e5f7"/><rect x="469.43" y="643" width="12.55" height="50" fill="#10fae6"/><rect x="483.28" y="643" width="12.55" height="50" fill="#00dbff"/><rect x="497.13" y="643" width="12.55" height="50" fill="#00b2ff"/>
<rect x="344" y="693" width="177" height="12" fill="#009eff"/><rect x="455.58" y="693" width="12.55" height="12" fill="#00dbff"/><rect x="469.43" y="693" width="12.55" height="12" fill="#00dbff"/><rect x="483.28" y="693" width="12.55" height="12" fill="#00dbff"/><rect x="497.13" y="693" width="12.55" height="12" fill="#00b2ff"/>
<rect x="344" y="705" width="177" height="14" fill="#002eff"/><rect x="455.58" y="705" width="12.55" height="14" fill="#f7f600"/><rect x="469.43" y="705" width="12.55" height="14" fill="#efff08"/><rect x="483.28" y="705" width="12.55" height="14" fill="#ffd900"/><rect x="497.13" y="705" width="12.55" height="14" fill="#ceff29"/>
<rect x="344" y="719" width="177" height="1" fill="#0024ff"/><rect x="455.58" y="719" width="12.55" height="1" fill="#4affad"/><rect x="469.43" y="719" width="12.55" height="1" fill="#3affbd"/><rect x="483.28" y="719" width="12.55" height="1" fill="#3affbd"/><rect x="497.13" y="719" width="12.55" height="1" fill="#08f0ef"/>
<rect x="344" y="689" width="112" height="3" fill="#006bff"/><rect x="511" y="689" width="11" height="3" fill="#006bff"/>
<rect x="438" y="438" width="18" height="6" fill="url(#glw)"/><rect x="436" y="468" width="20" height="12" fill="url(#glw)"/><rect x="344" y="80" width="112.05" height="641" filter="url(#nz)"/>
<rect x="509.68" y="80" width="11.32" height="641" filter="url(#nz)"/>
<rect x="455.58" y="99" width="54.1" height="46" filter="url(#nzb)"/>
<rect x="455.58" y="153" width="54.1" height="144" filter="url(#nzb)"/>
<rect x="455.58" y="297" width="54.1" height="12" filter="url(#nzy)"/>
<rect x="455.58" y="309" width="54.1" height="7" filter="url(#nzy)"/>
<rect x="455.58" y="316" width="54.1" height="9" filter="url(#nzy)"/>
<rect x="455.58" y="325" width="54.1" height="10" filter="url(#nzh)"/>
<rect x="455.58" y="335" width="54.1" height="14" filter="url(#nzh)"/>
<rect x="455.58" y="349" width="54.1" height="11" filter="url(#nzy)"/>
<rect x="455.58" y="360" width="54.1" height="15" filter="url(#nzy)"/>
<rect x="455.58" y="375" width="54.1" height="10" filter="url(#nzh)"/>
<rect x="455.58" y="434" width="54.1" height="4" filter="url(#nzy)"/>
<rect x="455.58" y="438" width="54.1" height="5" filter="url(#nzh)"/>
<rect x="455.58" y="443" width="54.1" height="6" filter="url(#nzh)"/>
<rect x="455.58" y="449" width="54.1" height="5" filter="url(#nzh)"/>
<rect x="455.58" y="454" width="54.1" height="10" filter="url(#nzh)"/>
<rect x="455.58" y="464" width="54.1" height="8" filter="url(#nzh)"/>
<rect x="455.58" y="472" width="54.1" height="6" filter="url(#nzh)"/>
<rect x="455.58" y="478" width="54.1" height="10" filter="url(#nzh)"/>
<rect x="455.58" y="488" width="54.1" height="10" filter="url(#nzh)"/>
<rect x="455.58" y="498" width="54.1" height="7" filter="url(#nzy)"/>
<rect x="455.58" y="505" width="54.1" height="10" filter="url(#nzh)"/>
<rect x="455.58" y="515" width="54.1" height="11" filter="url(#nzh)"/>
<rect x="455.58" y="526" width="54.1" height="11" filter="url(#nzh)"/>
<rect x="455.58" y="537" width="54.1" height="11" filter="url(#nzh)"/>
<rect x="455.58" y="548" width="54.1" height="11" filter="url(#nzh)"/>
<rect x="455.58" y="559" width="54.1" height="11" filter="url(#nzh)"/>
<rect x="455.58" y="570" width="54.1" height="11" filter="url(#nzh)"/>
<rect x="455.58" y="581" width="54.1" height="11" filter="url(#nzh)"/>
<rect x="455.58" y="592" width="54.1" height="10" filter="url(#nzy)"/>
<rect x="455.58" y="602" width="54.1" height="7" filter="url(#nzh)"/>
<rect x="455.58" y="612" width="54.1" height="8" filter="url(#nzy)"/>
<rect x="455.58" y="705" width="54.1" height="14" filter="url(#nzh)"/>
<rect x="455.58" y="719" width="54.1" height="1" filter="url(#nzy)"/>
<rect x="344" y="145" width="111.58" height="8" fill="#00b2ff" opacity="0.45"/><rect x="509.68" y="145" width="11.32" height="8" fill="#00b2ff" opacity="0.45"/>
<rect x="344" y="249" width="111.58" height="9" fill="#00b2ff" opacity="0.45"/><rect x="509.68" y="249" width="11.32" height="9" fill="#00b2ff" opacity="0.45"/>
<rect x="344" y="258" width="111.58" height="39" fill="#00dbff" opacity="0.45"/><rect x="509.68" y="258" width="11.32" height="39" fill="#00dbff" opacity="0.45"/>
<rect x="344" y="375" width="111.58" height="10" fill="#00dbff" opacity="0.45"/><rect x="509.68" y="375" width="11.32" height="10" fill="#00dbff" opacity="0.45"/>
<rect x="344" y="602" width="111.58" height="7" fill="#00c7ff" opacity="0.45"/><rect x="509.68" y="602" width="11.32" height="7" fill="#00c7ff" opacity="0.45"/>
<rect x="344" y="609" width="111.58" height="3" fill="#00dbff" opacity="0.45"/><rect x="509.68" y="609" width="11.32" height="3" fill="#00dbff" opacity="0.45"/>
<rect x="344" y="693" width="111.58" height="12" fill="#009eff" opacity="0.45"/><rect x="509.68" y="693" width="11.32" height="12" fill="#009eff" opacity="0.45"/>
<rect x="435" y="110" width="21" height="15" fill="url(#bl1)" opacity="0.85"/>
<rect x="455.58" y="80" width="54.1" height="19" filter="url(#nz)" opacity="0.75"/>
<rect x="455.58" y="145" width="54.1" height="8" filter="url(#nz)" opacity="0.75"/>
<rect x="455.58" y="385" width="54.1" height="49" filter="url(#nz)" opacity="0.75"/>
<rect x="455.58" y="609" width="54.1" height="3" filter="url(#nz)" opacity="0.75"/>
<rect x="455.58" y="620" width="54.1" height="85" filter="url(#nz)" opacity="0.75"/>
<rect x="468.13" y="80" width="1.3" height="640" fill="#0008f0"/><rect x="481.98" y="80" width="1.3" height="640" fill="#0008f0"/><rect x="495.83" y="80" width="1.3" height="640" fill="#0008f0"/>
<rect x="466.83" y="80" width="3.9" height="19" fill="#0020ff" opacity="0.55"/><rect x="480.68" y="80" width="3.9" height="19" fill="#0020ff" opacity="0.55"/><rect x="494.53" y="80" width="3.9" height="19" fill="#0020ff" opacity="0.55"/><rect x="455.58" y="80" width="1.5" height="19" fill="#0020ff" opacity="0.5"/><rect x="508.18" y="80" width="1.5" height="19" fill="#0020ff" opacity="0.5"/><rect x="466.83" y="145" width="3.9" height="8" fill="#0020ff" opacity="0.55"/><rect x="480.68" y="145" width="3.9" height="8" fill="#0020ff" opacity="0.55"/><rect x="494.53" y="145" width="3.9" height="8" fill="#0020ff" opacity="0.55"/><rect x="455.58" y="145" width="1.5" height="8" fill="#0020ff" opacity="0.5"/><rect x="508.18" y="145" width="1.5" height="8" fill="#0020ff" opacity="0.5"/><rect x="466.83" y="385" width="3.9" height="49" fill="#0020ff" opacity="0.55"/><rect x="480.68" y="385" width="3.9" height="49" fill="#0020ff" opacity="0.55"/><rect x="494.53" y="385" width="3.9" height="49" fill="#0020ff" opacity="0.55"/><rect x="455.58" y="385" width="1.5" height="49" fill="#0020ff" opacity="0.5"/><rect x="508.18" y="385" width="1.5" height="49" fill="#0020ff" opacity="0.5"/><rect x="466.83" y="620" width="3.9" height="85" fill="#0020ff" opacity="0.55"/><rect x="480.68" y="620" width="3.9" height="85" fill="#0020ff" opacity="0.55"/><rect x="494.53" y="620" width="3.9" height="85" fill="#0020ff" opacity="0.55"/><rect x="455.58" y="620" width="1.5" height="85" fill="#0020ff" opacity="0.5"/><rect x="508.18" y="620" width="1.5" height="85" fill="#0020ff" opacity="0.5"/>
<rect x="354" y="413" width="1" height="1" fill="#08f0ef"/><rect x="354" y="415" width="1" height="4" fill="#10fae6"/><rect x="406" y="165" width="22" height="1" fill="#0080ff"/><rect x="411" y="165" width="12" height="1" fill="#08f0ef"/><rect x="415" y="165" width="5" height="1" fill="#adff4a"/><rect x="416.6" y="164.7" width="1.8" height="1.4" fill="#ff2600"/>
<rect x="344" y="104" width="177" height="1" fill="#00000c"/><rect x="344" y="109" width="177" height="1" fill="#00000c"/><rect x="344" y="153" width="177" height="1" fill="#00000c"/><rect x="344" y="156" width="177" height="1" fill="#00000c"/><rect x="344" y="189" width="177" height="1" fill="#00000c"/><rect x="344" y="207" width="177" height="1" fill="#00000c"/><rect x="344" y="226" width="177" height="1" fill="#00000c"/><rect x="344" y="228" width="177" height="1" fill="#00000c"/><rect x="344" y="232" width="177" height="1" fill="#00000c"/><rect x="344" y="241" width="177" height="1" fill="#00000c"/><rect x="344" y="258" width="177" height="1" fill="#00000c"/><rect x="344" y="264" width="177" height="1" fill="#00000c"/><rect x="344" y="300" width="177" height="1" fill="#00000c"/><rect x="344" y="305" width="177" height="0.5" fill="#00000c"/><rect x="344" y="308" width="177" height="2" fill="#00000c"/><rect x="344" y="314" width="177" height="1" fill="#00000c"/><rect x="344" y="316" width="177" height="1" fill="#00000c"/><rect x="344" y="324" width="177" height="2" fill="#00000c"/><rect x="344" y="334" width="177" height="1" fill="#00000c"/><rect x="344" y="336" width="177" height="1" fill="#00000c"/><rect x="344" y="345" width="177" height="1" fill="#00000c"/><rect x="344" y="349" width="177" height="1" fill="#00000c"/><rect x="344" y="352" width="177" height="1" fill="#00000c"/><rect x="344" y="360" width="177" height="1" fill="#00000c"/><rect x="344" y="363" width="177" height="1" fill="#00000c"/><rect x="344" y="372" width="177" height="1" fill="#00000c"/><rect x="344" y="375" width="177" height="1" fill="#00000c"/><rect x="344" y="387" width="177" height="1" fill="#00000c"/><rect x="344" y="398" width="177" height="1" fill="#00000c"/><rect x="344" y="407" width="177" height="1" fill="#00000c"/><rect x="344" y="414" width="177" height="1" fill="#00000c"/><rect x="344" y="419" width="177" height="1" fill="#00000c"/><rect x="344" y="422" width="177" height="1" fill="#00000c"/><rect x="344" y="433" width="177" height="2" fill="#00000c"/><rect x="344" y="443" width="177" height="1" fill="#00000c"/><rect x="344" y="454" width="177" height="1" fill="#00000c"/><rect x="344" y="464" width="177" height="1" fill="#00000c"/><rect x="344" y="504" width="177" height="3" fill="#00000c"/><rect x="344" y="512" width="177" height="1" fill="#00000c"/><rect x="344" y="515" width="177" height="1" fill="#00000c"/><rect x="344" y="523" width="177" height="1" fill="#00000c"/><rect x="344" y="526" width="177" height="1" fill="#00000c"/><rect x="344" y="534" width="177" height="1" fill="#00000c"/><rect x="344" y="537" width="177" height="1" fill="#00000c"/><rect x="344" y="545" width="177" height="1" fill="#00000c"/><rect x="344" y="548" width="177" height="1" fill="#00000c"/><rect x="344" y="556" width="177" height="1" fill="#00000c"/><rect x="344" y="559" width="177" height="1" fill="#00000c"/><rect x="344" y="567" width="177" height="1" fill="#00000c"/><rect x="344" y="570" width="177" height="1" fill="#00000c"/><rect x="344" y="578" width="177" height="1" fill="#00000c"/><rect x="344" y="581" width="177" height="1" fill="#00000c"/><rect x="344" y="589" width="177" height="1" fill="#00000c"/><rect x="344" y="592" width="177" height="1" fill="#00000c"/><rect x="344" y="600" width="177" height="1" fill="#00000c"/><rect x="344" y="612" width="177" height="1" fill="#00000c"/><rect x="344" y="619" width="177" height="1" fill="#00000c"/><rect x="344" y="623" width="177" height="1" fill="#00000c"/><rect x="344" y="627" width="177" height="1" fill="#00000c"/><rect x="344" y="631" width="177" height="1" fill="#00000c"/><rect x="344" y="634" width="177" height="2" fill="#00000c"/><rect x="344" y="645" width="177" height="2" fill="#00000c"/><rect x="344" y="649" width="177" height="2" fill="#00000c"/><rect x="344" y="653" width="177" height="2" fill="#00000c"/><rect x="344" y="657" width="177" height="2" fill="#00000c"/><rect x="344" y="661" width="177" height="3" fill="#00000c"/><rect x="344" y="665" width="177" height="1" fill="#00000c"/><rect x="344" y="668" width="177" height="2" fill="#00000c"/><rect x="344" y="672" width="177" height="3" fill="#00000c"/><rect x="344" y="676" width="177" height="2" fill="#00000c"/><rect x="344" y="681" width="177" height="0.6" fill="#00000c"/><rect x="344" y="684" width="177" height="2" fill="#00000c"/><rect x="344" y="688" width="177" height="1" fill="#00000c"/><rect x="344" y="692" width="177" height="1" fill="#00000c"/><rect x="344" y="699" width="177" height="1" fill="#00000c"/><rect x="344" y="701.5" width="177" height="0.5" fill="#00000c"/><rect x="344" y="717.4" width="177" height="0.6" fill="#00000c"/>
<rect x="344" y="99" width="177" height="4" fill="#fff"/><rect x="344" y="125" width="177" height="5" fill="#fff"/><rect x="344" y="133" width="177" height="1" fill="#fff"/><rect x="344" y="139" width="177" height="1" fill="#fff"/><rect x="344" y="149" width="177" height="1" fill="#fff"/><rect x="344" y="170" width="177" height="1" fill="#fff"/><rect x="344" y="172" width="177" height="4" fill="#fff"/><rect x="344" y="199" width="177" height="1" fill="#fff"/><rect x="344" y="203" width="177" height="1" fill="#fff"/><rect x="344" y="208" width="177" height="11" fill="#fff"/><rect x="344" y="221" width="177" height="1" fill="#fff"/><rect x="344" y="224" width="177" height="1" fill="#fff"/><rect x="344" y="237" width="177" height="2" fill="#fff"/><rect x="344" y="245" width="177" height="4" fill="#fff"/><rect x="344" y="260" width="177" height="1" fill="#fff"/><rect x="344" y="263" width="177" height="1" fill="#fff"/><rect x="344" y="265" width="177" height="32" fill="#fff"/><rect x="344" y="304" width="177" height="1" fill="#fff"/><rect x="344" y="342" width="177" height="1" fill="#fff"/><rect x="344" y="347" width="177" height="2" fill="#fff"/><rect x="344" y="367" width="177" height="1" fill="#fff"/><rect x="344" y="371" width="177" height="1" fill="#fff"/><rect x="344" y="373" width="177" height="1" fill="#fff"/><rect x="344" y="380" width="177" height="5" fill="#fff"/><rect x="344" y="386" width="177" height="1" fill="#fff"/><rect x="344" y="405" width="177" height="1" fill="#fff"/><rect x="344" y="435" width="177" height="3" fill="#fff"/><rect x="344" y="440" width="177" height="1" fill="#fff"/><rect x="344" y="449" width="177" height="1" fill="#fff"/><rect x="344" y="478" width="177" height="1" fill="#fff"/><rect x="344" y="486" width="177" height="1" fill="#fff"/><rect x="344" y="488" width="177" height="3" fill="#fff"/><rect x="344" y="495" width="177" height="1" fill="#fff"/><rect x="344" y="498" width="177" height="4" fill="#fff"/><rect x="344" y="516" width="177" height="2" fill="#fff"/><rect x="344" y="533" width="177" height="1" fill="#fff"/><rect x="344" y="557" width="177" height="2" fill="#fff"/><rect x="344" y="598" width="177" height="1" fill="#fff"/><rect x="344" y="603" width="177" height="1" fill="#fff"/><rect x="344" y="605" width="177" height="1" fill="#fff"/><rect x="344" y="607" width="177" height="2" fill="#fff"/><rect x="344" y="622" width="177" height="1" fill="#fff"/><rect x="344" y="630" width="177" height="1" fill="#fff"/><rect x="344" y="639" width="177" height="1" fill="#fff"/><rect x="344" y="642" width="177" height="1" fill="#fff"/><rect x="344" y="664" width="177" height="1" fill="#fff"/><rect x="344" y="675" width="177" height="1" fill="#fff"/><rect x="344" y="679" width="177" height="2" fill="#fff"/><rect x="344" y="693" width="177" height="3" fill="#fff"/><rect x="344" y="702" width="177" height="3" fill="#fff"/><rect x="344" y="718" width="177" height="1" fill="#fff"/>
</g>
<rect x="344.3" y="80.3" width="176.4" height="640.4" fill="none" stroke="#000" stroke-width="1.4"/>
<path d="M344.5 720v-5.5M344.5 81v5.5M385.5 720v-5.5M385.5 81v5.5M426.5 720v-5.5M426.5 81v5.5M468.5 720v-5.5M468.5 81v5.5M509.5 720v-5.5M509.5 81v5.5M345 720.5h5.5M520 720.5h-5.5M345 587.5h5.5M520 587.5h-5.5M345 453.5h5.5M520 453.5h-5.5M345 320.5h5.5M520 320.5h-5.5M345 187.5h5.5M520 187.5h-5.5" stroke="#000" stroke-width="0.7" fill="none"/>
<text x="344.7" y="736" font-size="12.6" text-anchor="middle" letter-spacing="0.7">320</text><text x="385.7" y="736" font-size="12.6" text-anchor="middle" letter-spacing="0.7">335</text><text x="426.7" y="736" font-size="12.6" text-anchor="middle" letter-spacing="0.7">350</text><text x="468.7" y="736" font-size="12.6" text-anchor="middle" letter-spacing="0.7">365</text><text x="509.7" y="736" font-size="12.6" text-anchor="middle" letter-spacing="0.7">380</text>
<text x="340.4" y="724" font-size="12.6" text-anchor="end" letter-spacing="0.9">0</text><text x="340.4" y="590" font-size="12.6" text-anchor="end" letter-spacing="0.9">5</text><text x="340.4" y="457" font-size="12.6" text-anchor="end" letter-spacing="0.9">10</text><text x="340.4" y="324" font-size="12.6" text-anchor="end" letter-spacing="0.9">15</text><text x="340.4" y="190" font-size="12.6" text-anchor="end" letter-spacing="0.9">20</text>
<text x="432.58" y="72" font-size="15.5" text-anchor="middle" letter-spacing="0.6">YY, V7*V15=EA03*EA26</text>
<g clip-path="url(#cp2)">
<rect x="556" y="80" width="178" height="641" fill="#0019ff"/>
<rect x="556" y="80" width="178" height="23" fill="#0019ff"/><rect x="667.85" y="80" width="12.55" height="23" fill="#0094ff"/><rect x="681.7" y="80" width="12.55" height="23" fill="#0080ff"/><rect x="695.55" y="80" width="12.55" height="23" fill="#00dbff"/><rect x="709.4" y="80" width="12.55" height="23" fill="#00b2ff"/>
<rect x="556" y="103" width="178" height="7" fill="#0019ff"/><rect x="667.85" y="103" width="12.55" height="7" fill="#ffc600"/><rect x="681.7" y="103" width="12.55" height="7" fill="#deff19"/><rect x="695.55" y="103" width="12.55" height="7" fill="#efff08"/><rect x="709.4" y="103" width="12.55" height="7" fill="#ffec00"/>
<rect x="556" y="110" width="178" height="11" fill="#0024ff"/><rect x="667.85" y="110" width="12.55" height="11" fill="#ffc600"/><rect x="681.7" y="110" width="12.55" height="11" fill="#ffec00"/><rect x="695.55" y="110" width="12.55" height="11" fill="#ffbd00"/><rect x="709.4" y="110" width="12.55" height="11" fill="#deff19"/>
<rect x="556" y="121" width="178" height="9" fill="#0024ff"/><rect x="667.85" y="121" width="12.55" height="9" fill="#deff19"/><rect x="681.7" y="121" width="12.55" height="9" fill="#ffbd00"/><rect x="695.55" y="121" width="12.55" height="9" fill="#ff9700"/><rect x="709.4" y="121" width="12.55" height="9" fill="#ffd000"/>
<rect x="556" y="130" width="178" height="4" fill="#0019ff"/><rect x="667.85" y="130" width="12.55" height="4" fill="#deff19"/><rect x="681.7" y="130" width="12.55" height="4" fill="#deff19"/><rect x="695.55" y="130" width="12.55" height="4" fill="#deff19"/><rect x="709.4" y="130" width="12.55" height="4" fill="#bdff3a"/>
<rect x="556" y="134" width="178" height="6" fill="#0019ff"/><rect x="667.85" y="134" width="12.55" height="6" fill="#bdff3a"/><rect x="681.7" y="134" width="12.55" height="6" fill="#deff19"/><rect x="695.55" y="134" width="12.55" height="6" fill="#efff08"/><rect x="709.4" y="134" width="12.55" height="6" fill="#adff4a"/>
<rect x="556" y="140" width="178" height="5" fill="#0019ff"/><rect x="667.85" y="140" width="12.55" height="5" fill="#4affad"/><rect x="681.7" y="140" width="12.55" height="5" fill="#4affad"/><rect x="695.55" y="140" width="12.55" height="5" fill="#3affbd"/><rect x="709.4" y="140" width="12.55" height="5" fill="#3affbd"/>
<rect x="556" y="145" width="178" height="8" fill="#0019ff"/><rect x="667.85" y="145" width="12.55" height="8" fill="#009eff"/><rect x="681.7" y="145" width="12.55" height="8" fill="#008aff"/><rect x="695.55" y="145" width="12.55" height="8" fill="#0075ff"/><rect x="709.4" y="145" width="12.55" height="8" fill="#009eff"/>
<rect x="556" y="153" width="178" height="10" fill="#0005ff"/><rect x="667.85" y="153" width="12.55" height="10" fill="#adff4a"/><rect x="681.7" y="153" width="12.55" height="10" fill="#7bff7b"/><rect x="695.55" y="153" width="12.55" height="10" fill="#6bff8c"/><rect x="709.4" y="153" width="12.55" height="10" fill="#7bff7b"/>
<rect x="556" y="163" width="178" height="13" fill="#000fff"/><rect x="667.85" y="163" width="12.55" height="13" fill="#8cff6b"/><rect x="681.7" y="163" width="12.55" height="13" fill="#5aff9c"/><rect x="695.55" y="163" width="12.55" height="13" fill="#4affad"/><rect x="709.4" y="163" width="12.55" height="13" fill="#5aff9c"/>
<rect x="556" y="176" width="178" height="13" fill="#0019ff"/><rect x="667.85" y="176" width="12.55" height="13" fill="#deff19"/><rect x="681.7" y="176" width="12.55" height="13" fill="#deff19"/><rect x="695.55" y="176" width="12.55" height="13" fill="#adff4a"/><rect x="709.4" y="176" width="12.55" height="13" fill="#deff19"/>
<rect x="556" y="189" width="178" height="10" fill="#0019ff"/><rect x="667.85" y="189" width="12.55" height="10" fill="#deff19"/><rect x="681.7" y="189" width="12.55" height="10" fill="#bdff3a"/><rect x="695.55" y="189" width="12.55" height="10" fill="#9cff5a"/><rect x="709.4" y="189" width="12.55" height="10" fill="#ceff29"/>
<rect x="556" y="199" width="178" height="20" fill="#0019ff"/><rect x="667.85" y="199" width="12.55" height="20" fill="#deff19"/><rect x="681.7" y="199" width="12.55" height="20" fill="#deff19"/><rect x="695.55" y="199" width="12.55" height="20" fill="#bdff3a"/><rect x="709.4" y="199" width="12.55" height="20" fill="#ceff29"/>
<rect x="556" y="219" width="178" height="7" fill="#000fff"/><rect x="667.85" y="219" width="12.55" height="7" fill="#7bff7b"/><rect x="681.7" y="219" width="12.55" height="7" fill="#e6ff10"/><rect x="695.55" y="219" width="12.55" height="7" fill="#9cff5a"/><rect x="709.4" y="219" width="12.55" height="7" fill="#bdff3a"/>
<rect x="556" y="226" width="178" height="6" fill="#0000ff"/><rect x="667.85" y="226" width="12.55" height="6" fill="#adff4a"/><rect x="681.7" y="226" width="12.55" height="6" fill="#9cff5a"/><rect x="695.55" y="226" width="12.55" height="6" fill="#bdff3a"/><rect x="709.4" y="226" width="12.55" height="6" fill="#9cff5a"/>
<rect x="556" y="232" width="178" height="8" fill="#000fff"/><rect x="667.85" y="232" width="12.55" height="8" fill="#9cff5a"/><rect x="681.7" y="232" width="12.55" height="8" fill="#7bff7b"/><rect x="695.55" y="232" width="12.55" height="8" fill="#8cff6b"/><rect x="709.4" y="232" width="12.55" height="8" fill="#6bff8c"/>
<rect x="556" y="240" width="178" height="9" fill="#000fff"/><rect x="667.85" y="240" width="12.55" height="9" fill="#deff19"/><rect x="681.7" y="240" width="12.55" height="9" fill="#8cff6b"/><rect x="695.55" y="240" width="12.55" height="9" fill="#bdff3a"/><rect x="709.4" y="240" width="12.55" height="9" fill="#7bff7b"/>
<rect x="556" y="249" width="178" height="9" fill="#000fff"/><rect x="667.85" y="249" width="12.55" height="9" fill="#ceff29"/><rect x="681.7" y="249" width="12.55" height="9" fill="#efff08"/><rect x="695.55" y="249" width="12.55" height="9" fill="#deff19"/><rect x="709.4" y="249" width="12.55" height="9" fill="#9cff5a"/>
<rect x="556" y="258" width="178" height="39" fill="#000fff"/><rect x="667.85" y="258" width="12.55" height="39" fill="#deff19"/><rect x="681.7" y="258" width="12.55" height="39" fill="#deff19"/><rect x="695.55" y="258" width="12.55" height="39" fill="#efff08"/><rect x="709.4" y="258" width="12.55" height="39" fill="#ffec00"/>
<rect x="556" y="297" width="178" height="12" fill="#0000ff"/><rect x="667.85" y="297" width="12.55" height="12" fill="#7bff7b"/><rect x="681.7" y="297" width="12.55" height="12" fill="#deff19"/><rect x="695.55" y="297" width="12.55" height="12" fill="#deff19"/><rect x="709.4" y="297" width="12.55" height="12" fill="#7bff7b"/>
<rect x="556" y="309" width="178" height="7" fill="#0005ff"/><rect x="667.85" y="309" width="12.55" height="7" fill="#84ff73"/><rect x="681.7" y="309" width="12.55" height="7" fill="#c5ff31"/><rect x="695.55" y="309" width="12.55" height="7" fill="#94ff63"/><rect x="709.4" y="309" width="12.55" height="7" fill="#73ff84"/>
<rect x="556" y="316" width="178" height="9" fill="#0005ff"/><rect x="667.85" y="316" width="12.55" height="9" fill="#73ff84"/><rect x="681.7" y="316" width="12.55" height="9" fill="#a5ff52"/><rect x="695.55" y="316" width="12.55" height="9" fill="#84ff73"/><rect x="709.4" y="316" width="12.55" height="9" fill="#63ff94"/>
<rect x="556" y="325" width="178" height="10" fill="#0005ff"/><rect x="667.85" y="325" width="12.55" height="10" fill="#efff08"/><rect x="681.7" y="325" width="12.55" height="10" fill="#e6ff10"/><rect x="695.55" y="325" width="12.55" height="10" fill="#deff19"/><rect x="709.4" y="325" width="12.55" height="10" fill="#e6ff10"/>
<rect x="556" y="335" width="178" height="14" fill="#0005ff"/><rect x="667.85" y="335" width="12.55" height="14" fill="#efff08"/><rect x="681.7" y="335" width="12.55" height="14" fill="#deff19"/><rect x="695.55" y="335" width="12.55" height="14" fill="#e6ff10"/><rect x="709.4" y="335" width="12.55" height="14" fill="#deff19"/>
<rect x="556" y="349" width="178" height="11" fill="#0005ff"/><rect x="667.85" y="349" width="12.55" height="11" fill="#ceff29"/><rect x="681.7" y="349" width="12.55" height="11" fill="#9cff5a"/><rect x="695.55" y="349" width="12.55" height="11" fill="#9cff5a"/><rect x="709.4" y="349" width="12.55" height="11" fill="#adff4a"/>
<rect x="556" y="360" width="178" height="15" fill="#0005ff"/><rect x="667.85" y="360" width="12.55" height="15" fill="#ceff29"/><rect x="681.7" y="360" width="12.55" height="15" fill="#adff4a"/><rect x="695.55" y="360" width="12.55" height="15" fill="#8cff6b"/><rect x="709.4" y="360" width="12.55" height="15" fill="#9cff5a"/>
<rect x="556" y="375" width="178" height="10" fill="#0024ff"/><rect x="667.85" y="375" width="12.55" height="10" fill="#deff19"/><rect x="681.7" y="375" width="12.55" height="10" fill="#deff19"/><rect x="695.55" y="375" width="12.55" height="10" fill="#adff4a"/><rect x="709.4" y="375" width="12.55" height="10" fill="#bdff3a"/>
<rect x="556" y="385" width="178" height="13" fill="#000fff"/><rect x="667.85" y="385" width="12.55" height="13" fill="#10fae6"/><rect x="681.7" y="385" width="12.55" height="13" fill="#31ffc5"/><rect x="695.55" y="385" width="12.55" height="13" fill="#31ffc5"/><rect x="709.4" y="385" width="12.55" height="13" fill="#10fae6"/>
<rect x="556" y="398" width="178" height="16" fill="#0005ff"/><rect x="667.85" y="398" width="12.55" height="16" fill="#00d1ff"/><rect x="681.7" y="398" width="12.55" height="16" fill="#21ffd6"/><rect x="695.55" y="398" width="12.55" height="16" fill="#00d1ff"/><rect x="709.4" y="398" width="12.55" height="16" fill="#00d1ff"/>
<rect x="556" y="414" width="178" height="15" fill="#0005ff"/><rect x="667.85" y="414" width="12.55" height="15" fill="#10fae6"/><rect x="681.7" y="414" width="12.55" height="15" fill="#21ffd6"/><rect x="695.55" y="414" width="12.55" height="15" fill="#00e5f7"/><rect x="709.4" y="414" width="12.55" height="15" fill="#00e5f7"/>
<rect x="556" y="429" width="178" height="9" fill="#000fff"/><rect x="667.85" y="429" width="12.55" height="9" fill="#21ffd6"/><rect x="681.7" y="429" width="12.55" height="9" fill="#31ffc5"/><rect x="695.55" y="429" width="12.55" height="9" fill="#21ffd6"/><rect x="709.4" y="429" width="12.55" height="9" fill="#10fae6"/>
<rect x="556" y="438" width="178" height="5" fill="#000fff"/><rect x="667.85" y="438" width="12.55" height="5" fill="#efff08"/><rect x="681.7" y="438" width="12.55" height="5" fill="#ceff29"/><rect x="695.55" y="438" width="12.55" height="5" fill="#ffec00"/><rect x="709.4" y="438" width="12.55" height="5" fill="#ffec00"/>
<rect x="556" y="443" width="178" height="6" fill="#000fff"/><rect x="667.85" y="443" width="12.55" height="6" fill="#ffd900"/><rect x="681.7" y="443" width="12.55" height="6" fill="#deff19"/><rect x="695.55" y="443" width="12.55" height="6" fill="#deff19"/><rect x="709.4" y="443" width="12.55" height="6" fill="#ffd900"/>
<rect x="556" y="449" width="178" height="5" fill="#000fff"/><rect x="667.85" y="449" width="12.55" height="5" fill="#deff19"/><rect x="681.7" y="449" width="12.55" height="5" fill="#ffec00"/><rect x="695.55" y="449" width="12.55" height="5" fill="#efff08"/><rect x="709.4" y="449" width="12.55" height="5" fill="#efff08"/>
<rect x="556" y="454" width="178" height="10" fill="#000fff"/><rect x="667.85" y="454" width="12.55" height="10" fill="#ffec00"/><rect x="681.7" y="454" width="12.55" height="10" fill="#ffd900"/><rect x="695.55" y="454" width="12.55" height="10" fill="#ffc600"/><rect x="709.4" y="454" width="12.55" height="10" fill="#deff19"/>
<rect x="556" y="464" width="178" height="8" fill="#000fff"/><rect x="667.85" y="464" width="12.55" height="8" fill="#9cff5a"/><rect x="681.7" y="464" width="12.55" height="8" fill="#ceff29"/><rect x="695.55" y="464" width="12.55" height="8" fill="#bdff3a"/><rect x="709.4" y="464" width="12.55" height="8" fill="#bdff3a"/>
<rect x="556" y="472" width="178" height="6" fill="#000fff"/><rect x="667.85" y="472" width="12.55" height="6" fill="#ffd900"/><rect x="681.7" y="472" width="12.55" height="6" fill="#deff19"/><rect x="695.55" y="472" width="12.55" height="6" fill="#ceff29"/><rect x="709.4" y="472" width="12.55" height="6" fill="#ceff29"/>
<rect x="556" y="478" width="178" height="10" fill="#0019ff"/><rect x="667.85" y="478" width="12.55" height="10" fill="#efff08"/><rect x="681.7" y="478" width="12.55" height="10" fill="#deff19"/><rect x="695.55" y="478" width="12.55" height="10" fill="#efff08"/><rect x="709.4" y="478" width="12.55" height="10" fill="#deff19"/>
<rect x="556" y="488" width="178" height="10" fill="#0019ff"/><rect x="667.85" y="488" width="12.55" height="10" fill="#deff19"/><rect x="681.7" y="488" width="12.55" height="10" fill="#ffec00"/><rect x="695.55" y="488" width="12.55" height="10" fill="#ceff29"/><rect x="709.4" y="488" width="12.55" height="10" fill="#adff4a"/>
<rect x="556" y="498" width="178" height="7" fill="#0024ff"/><rect x="667.85" y="498" width="12.55" height="7" fill="#ceff29"/><rect x="681.7" y="498" width="12.55" height="7" fill="#9cff5a"/><rect x="695.55" y="498" width="12.55" height="7" fill="#9cff5a"/><rect x="709.4" y="498" width="12.55" height="7" fill="#7bff7b"/>
<rect x="556" y="505" width="178" height="10" fill="#0038ff"/><rect x="667.85" y="505" width="12.55" height="10" fill="#ffd900"/><rect x="681.7" y="505" width="12.55" height="10" fill="#ffb300"/><rect x="695.55" y="505" width="12.55" height="10" fill="#ffd900"/><rect x="709.4" y="505" width="12.55" height="10" fill="#ffd900"/>
<rect x="556" y="515" width="178" height="11" fill="#0019ff"/><rect x="667.85" y="515" width="12.55" height="11" fill="#efff08"/><rect x="681.7" y="515" width="12.55" height="11" fill="#ffd900"/><rect x="695.55" y="515" width="12.55" height="11" fill="#efff08"/><rect x="709.4" y="515" width="12.55" height="11" fill="#deff19"/>
<rect x="556" y="526" width="178" height="11" fill="#0019ff"/><rect x="667.85" y="526" width="12.55" height="11" fill="#ffec00"/><rect x="681.7" y="526" width="12.55" height="11" fill="#ffd900"/><rect x="695.55" y="526" width="12.55" height="11" fill="#adff4a"/><rect x="709.4" y="526" width="12.55" height="11" fill="#ceff29"/>
<rect x="556" y="537" width="178" height="11" fill="#000fff"/><rect x="667.85" y="537" width="12.55" height="11" fill="#adff4a"/><rect x="681.7" y="537" width="12.55" height="11" fill="#deff19"/><rect x="695.55" y="537" width="12.55" height="11" fill="#deff19"/><rect x="709.4" y="537" width="12.55" height="11" fill="#deff19"/>
<rect x="556" y="548" width="178" height="11" fill="#000fff"/><rect x="667.85" y="548" width="12.55" height="11" fill="#adff4a"/><rect x="681.7" y="548" width="12.55" height="11" fill="#e6ff10"/><rect x="695.55" y="548" width="12.55" height="11" fill="#ceff29"/><rect x="709.4" y="548" width="12.55" height="11" fill="#deff19"/>
<rect x="556" y="559" width="178" height="11" fill="#000fff"/><rect x="667.85" y="559" width="12.55" height="11" fill="#deff19"/><rect x="681.7" y="559" width="12.55" height="11" fill="#adff4a"/><rect x="695.55" y="559" width="12.55" height="11" fill="#ceff29"/><rect x="709.4" y="559" width="12.55" height="11" fill="#ceff29"/>
<rect x="556" y="570" width="178" height="11" fill="#000fff"/><rect x="667.85" y="570" width="12.55" height="11" fill="#ffec00"/><rect x="681.7" y="570" width="12.55" height="11" fill="#9cff5a"/><rect x="695.55" y="570" width="12.55" height="11" fill="#adff4a"/><rect x="709.4" y="570" width="12.55" height="11" fill="#8cff6b"/>
<rect x="556" y="581" width="178" height="11" fill="#000fff"/><rect x="667.85" y="581" width="12.55" height="11" fill="#ffec00"/><rect x="681.7" y="581" width="12.55" height="11" fill="#deff19"/><rect x="695.55" y="581" width="12.55" height="11" fill="#ceff29"/><rect x="709.4" y="581" width="12.55" height="11" fill="#9cff5a"/>
<rect x="556" y="592" width="178" height="10" fill="#000fff"/><rect x="667.85" y="592" width="12.55" height="10" fill="#deff19"/><rect x="681.7" y="592" width="12.55" height="10" fill="#adff4a"/><rect x="695.55" y="592" width="12.55" height="10" fill="#8cff6b"/><rect x="709.4" y="592" width="12.55" height="10" fill="#8cff6b"/>
<rect x="556" y="602" width="178" height="7" fill="#0024ff"/><rect x="667.85" y="602" width="12.55" height="7" fill="#ceff29"/><rect x="681.7" y="602" width="12.55" height="7" fill="#deff19"/><rect x="695.55" y="602" width="12.55" height="7" fill="#9cff5a"/><rect x="709.4" y="602" width="12.55" height="7" fill="#7bff7b"/>
<rect x="556" y="609" width="178" height="3" fill="#000fff"/><rect x="667.85" y="609" width="12.55" height="3" fill="#00dbff"/><rect x="681.7" y="609" width="12.55" height="3" fill="#00dbff"/><rect x="695.55" y="609" width="12.55" height="3" fill="#00dbff"/><rect x="709.4" y="609" width="12.55" height="3" fill="#00dbff"/>
<rect x="556" y="612" width="178" height="8" fill="#000fff"/><rect x="667.85" y="612" width="12.55" height="8" fill="#9cff5a"/><rect x="681.7" y="612" width="12.55" height="8" fill="#4affad"/><rect x="695.55" y="612" width="12.55" height="8" fill="#3affbd"/><rect x="709.4" y="612" width="12.55" height="8" fill="#00dbff"/>
<rect x="556" y="620" width="178" height="11" fill="#000fff"/><rect x="667.85" y="620" width="12.55" height="11" fill="#3affbd"/><rect x="681.7" y="620" width="12.55" height="11" fill="#4affad"/><rect x="695.55" y="620" width="12.55" height="11" fill="#19ffde"/><rect x="709.4" y="620" width="12.55" height="11" fill="#009eff"/>
<rect x="556" y="631" width="178" height="12" fill="#002eff"/><rect x="667.85" y="631" width="12.55" height="12" fill="#19ffde"/><rect x="681.7" y="631" width="12.55" height="12" fill="#08f0ef"/><rect x="695.55" y="631" width="12.55" height="12" fill="#00dbff"/><rect x="709.4" y="631" width="12.55" height="12" fill="#00b2ff"/>
<rect x="556" y="643" width="178" height="50" fill="#0048ff"/><rect x="667.85" y="643" width="12.55" height="50" fill="#10fae6"/><rect x="681.7" y="643" width="12.55" height="50" fill="#00e5f7"/><rect x="695.55" y="643" width="12.55" height="50" fill="#00dbff"/><rect x="709.4" y="643" width="12.55" height="50" fill="#00b2ff"/>
<rect x="556" y="693" width="178" height="12" fill="#0024ff"/><rect x="667.85" y="693" width="12.55" height="12" fill="#00b2ff"/><rect x="681.7" y="693" width="12.55" height="12" fill="#008aff"/><rect x="695.55" y="693" width="12.55" height="12" fill="#008aff"/><rect x="709.4" y="693" width="12.55" height="12" fill="#008aff"/>
<rect x="556" y="705" width="178" height="14" fill="#0024ff"/><rect x="667.85" y="705" width="12.55" height="14" fill="#deff19"/><rect x="681.7" y="705" width="12.55" height="14" fill="#ffec00"/><rect x="695.55" y="705" width="12.55" height="14" fill="#deff19"/><rect x="709.4" y="705" width="12.55" height="14" fill="#9cff5a"/>
<rect x="556" y="719" width="178" height="1" fill="#0024ff"/><rect x="667.85" y="719" width="12.55" height="1" fill="#4affad"/><rect x="681.7" y="719" width="12.55" height="1" fill="#3affbd"/><rect x="695.55" y="719" width="12.55" height="1" fill="#3affbd"/><rect x="709.4" y="719" width="12.55" height="1" fill="#08f0ef"/>

<rect x="654" y="470" width="14" height="10" fill="url(#glw)"/><rect x="556" y="80" width="112.05" height="641" filter="url(#nz)"/>
<rect x="721.95" y="80" width="12.05" height="641" filter="url(#nz)"/>
<rect x="667.85" y="99" width="54.1" height="41" filter="url(#nzb)"/>
<rect x="667.85" y="153" width="54.1" height="144" filter="url(#nzb)"/>
<rect x="667.85" y="297" width="54.1" height="12" filter="url(#nzy)"/>
<rect x="667.85" y="309" width="54.1" height="7" filter="url(#nzy)"/>
<rect x="667.85" y="316" width="54.1" height="9" filter="url(#nzy)"/>
<rect x="667.85" y="325" width="54.1" height="10" filter="url(#nzh)"/>
<rect x="667.85" y="335" width="54.1" height="14" filter="url(#nzh)"/>
<rect x="667.85" y="349" width="54.1" height="11" filter="url(#nzy)"/>
<rect x="667.85" y="360" width="54.1" height="15" filter="url(#nzy)"/>
<rect x="667.85" y="375" width="54.1" height="10" filter="url(#nzh)"/>
<rect x="667.85" y="434" width="54.1" height="4" filter="url(#nzy)"/>
<rect x="667.85" y="438" width="54.1" height="5" filter="url(#nzh)"/>
<rect x="667.85" y="443" width="54.1" height="6" filter="url(#nzh)"/>
<rect x="667.85" y="449" width="54.1" height="5" filter="url(#nzh)"/>
<rect x="667.85" y="454" width="54.1" height="10" filter="url(#nzh)"/>
<rect x="667.85" y="464" width="54.1" height="8" filter="url(#nzy)"/>
<rect x="667.85" y="472" width="54.1" height="6" filter="url(#nzh)"/>
<rect x="667.85" y="478" width="54.1" height="10" filter="url(#nzh)"/>
<rect x="667.85" y="488" width="54.1" height="10" filter="url(#nzh)"/>
<rect x="667.85" y="498" width="54.1" height="7" filter="url(#nzy)"/>
<rect x="667.85" y="505" width="54.1" height="10" filter="url(#nzh)"/>
<rect x="667.85" y="515" width="54.1" height="11" filter="url(#nzh)"/>
<rect x="667.85" y="526" width="54.1" height="11" filter="url(#nzh)"/>
<rect x="667.85" y="537" width="54.1" height="11" filter="url(#nzh)"/>
<rect x="667.85" y="548" width="54.1" height="11" filter="url(#nzh)"/>
<rect x="667.85" y="559" width="54.1" height="11" filter="url(#nzh)"/>
<rect x="667.85" y="570" width="54.1" height="11" filter="url(#nzy)"/>
<rect x="667.85" y="581" width="54.1" height="11" filter="url(#nzh)"/>
<rect x="667.85" y="592" width="54.1" height="10" filter="url(#nzy)"/>
<rect x="667.85" y="602" width="54.1" height="7" filter="url(#nzy)"/>
<rect x="667.85" y="612" width="54.1" height="8" filter="url(#nzy)"/>
<rect x="667.85" y="705" width="54.1" height="14" filter="url(#nzh)"/>
<rect x="667.85" y="719" width="54.1" height="1" filter="url(#nzy)"/>
<rect x="655" y="110" width="13" height="11" fill="url(#bl2)" opacity="0.85"/>
<rect x="667.85" y="80" width="54.1" height="19" filter="url(#nz)" opacity="0.75"/>
<rect x="667.85" y="140" width="54.1" height="13" filter="url(#nz)" opacity="0.75"/>
<rect x="667.85" y="385" width="54.1" height="49" filter="url(#nz)" opacity="0.75"/>
<rect x="667.85" y="609" width="54.1" height="3" filter="url(#nz)" opacity="0.75"/>
<rect x="667.85" y="620" width="54.1" height="85" filter="url(#nz)" opacity="0.75"/>
<rect x="680.4" y="80" width="1.3" height="640" fill="#0008f0"/><rect x="694.25" y="80" width="1.3" height="640" fill="#0008f0"/><rect x="708.1" y="80" width="1.3" height="640" fill="#0008f0"/>
<rect x="679.1" y="80" width="3.9" height="19" fill="#0020ff" opacity="0.55"/><rect x="692.95" y="80" width="3.9" height="19" fill="#0020ff" opacity="0.55"/><rect x="706.8" y="80" width="3.9" height="19" fill="#0020ff" opacity="0.55"/><rect x="667.85" y="80" width="1.5" height="19" fill="#0020ff" opacity="0.5"/><rect x="720.45" y="80" width="1.5" height="19" fill="#0020ff" opacity="0.5"/><rect x="679.1" y="140" width="3.9" height="13" fill="#0020ff" opacity="0.55"/><rect x="692.95" y="140" width="3.9" height="13" fill="#0020ff" opacity="0.55"/><rect x="706.8" y="140" width="3.9" height="13" fill="#0020ff" opacity="0.55"/><rect x="667.85" y="140" width="1.5" height="13" fill="#0020ff" opacity="0.5"/><rect x="720.45" y="140" width="1.5" height="13" fill="#0020ff" opacity="0.5"/><rect x="679.1" y="385" width="3.9" height="49" fill="#0020ff" opacity="0.55"/><rect x="692.95" y="385" width="3.9" height="49" fill="#0020ff" opacity="0.55"/><rect x="706.8" y="385" width="3.9" height="49" fill="#0020ff" opacity="0.55"/><rect x="667.85" y="385" width="1.5" height="49" fill="#0020ff" opacity="0.5"/><rect x="720.45" y="385" width="1.5" height="49" fill="#0020ff" opacity="0.5"/><rect x="679.1" y="620" width="3.9" height="85" fill="#0020ff" opacity="0.55"/><rect x="692.95" y="620" width="3.9" height="85" fill="#0020ff" opacity="0.55"/><rect x="706.8" y="620" width="3.9" height="85" fill="#0020ff" opacity="0.55"/><rect x="667.85" y="620" width="1.5" height="85" fill="#0020ff" opacity="0.5"/><rect x="720.45" y="620" width="1.5" height="85" fill="#0020ff" opacity="0.5"/>
<rect x="566" y="413" width="1" height="1" fill="#08f0ef"/><rect x="566" y="415" width="1" height="4" fill="#10fae6"/><rect x="618" y="165" width="22" height="1" fill="#0080ff"/><rect x="623" y="165" width="12" height="1" fill="#08f0ef"/><rect x="627" y="165" width="5" height="1" fill="#adff4a"/><rect x="628.6" y="164.7" width="1.8" height="1.4" fill="#ff2600"/><rect x="618" y="154" width="1" height="1.2" fill="#deff19"/><rect x="618" y="158" width="1" height="1" fill="#8cff6b"/><rect x="618" y="160.3" width="1" height="1" fill="#08f0ef"/><rect x="649.5" y="158" width="2" height="1" fill="#ceff29"/><rect x="650" y="161" width="1" height="1.2" fill="#ff4200"/><rect x="650.3" y="165" width="1" height="1.6" fill="#19ffde"/><rect x="650.3" y="168" width="1" height="1.6" fill="#3affbd"/>
<rect x="556" y="104" width="178" height="1" fill="#00000c"/><rect x="556" y="109" width="178" height="1" fill="#00000c"/><rect x="556" y="153" width="178" height="1" fill="#00000c"/><rect x="556" y="156" width="178" height="1" fill="#00000c"/><rect x="556" y="189" width="178" height="1" fill="#00000c"/><rect x="556" y="207" width="178" height="1" fill="#00000c"/><rect x="556" y="226" width="178" height="1" fill="#00000c"/><rect x="556" y="228" width="178" height="1" fill="#00000c"/><rect x="556" y="232" width="178" height="1" fill="#00000c"/><rect x="556" y="241" width="178" height="1" fill="#00000c"/><rect x="556" y="258" width="178" height="1" fill="#00000c"/><rect x="556" y="264" width="178" height="1" fill="#00000c"/><rect x="556" y="300" width="178" height="1" fill="#00000c"/><rect x="556" y="305" width="178" height="0.5" fill="#00000c"/><rect x="556" y="308" width="178" height="2" fill="#00000c"/><rect x="556" y="314" width="178" height="1" fill="#00000c"/><rect x="556" y="316" width="178" height="1" fill="#00000c"/><rect x="556" y="324" width="178" height="2" fill="#00000c"/><rect x="556" y="334" width="178" height="1" fill="#00000c"/><rect x="556" y="336" width="178" height="1" fill="#00000c"/><rect x="556" y="345" width="178" height="1" fill="#00000c"/><rect x="556" y="349" width="178" height="1" fill="#00000c"/><rect x="556" y="352" width="178" height="1" fill="#00000c"/><rect x="556" y="360" width="178" height="1" fill="#00000c"/><rect x="556" y="363" width="178" height="1" fill="#00000c"/><rect x="556" y="372" width="178" height="1" fill="#00000c"/><rect x="556" y="375" width="178" height="1" fill="#00000c"/><rect x="556" y="387" width="178" height="1" fill="#00000c"/><rect x="556" y="398" width="178" height="1" fill="#00000c"/><rect x="556" y="407" width="178" height="1" fill="#00000c"/><rect x="556" y="414" width="178" height="1" fill="#00000c"/><rect x="556" y="419" width="178" height="1" fill="#00000c"/><rect x="556" y="422" width="178" height="1" fill="#00000c"/><rect x="556" y="433" width="178" height="2" fill="#00000c"/><rect x="556" y="443" width="178" height="1" fill="#00000c"/><rect x="556" y="454" width="178" height="1" fill="#00000c"/><rect x="556" y="464" width="178" height="1" fill="#00000c"/><rect x="556" y="504" width="178" height="3" fill="#00000c"/><rect x="556" y="512" width="178" height="1" fill="#00000c"/><rect x="556" y="515" width="178" height="1" fill="#00000c"/><rect x="556" y="523" width="178" height="1" fill="#00000c"/><rect x="556" y="526" width="178" height="1" fill="#00000c"/><rect x="556" y="534" width="178" height="1" fill="#00000c"/><rect x="556" y="537" width="178" height="1" fill="#00000c"/><rect x="556" y="545" width="178" height="1" fill="#00000c"/><rect x="556" y="548" width="178" height="1" fill="#00000c"/><rect x="556" y="556" width="178" height="1" fill="#00000c"/><rect x="556" y="559" width="178" height="1" fill="#00000c"/><rect x="556" y="567" width="178" height="1" fill="#00000c"/><rect x="556" y="570" width="178" height="1" fill="#00000c"/><rect x="556" y="578" width="178" height="1" fill="#00000c"/><rect x="556" y="581" width="178" height="1" fill="#00000c"/><rect x="556" y="589" width="178" height="1" fill="#00000c"/><rect x="556" y="592" width="178" height="1" fill="#00000c"/><rect x="556" y="600" width="178" height="1" fill="#00000c"/><rect x="556" y="612" width="178" height="1" fill="#00000c"/><rect x="556" y="619" width="178" height="1" fill="#00000c"/><rect x="556" y="623" width="178" height="1" fill="#00000c"/><rect x="556" y="627" width="178" height="1" fill="#00000c"/><rect x="556" y="631" width="178" height="1" fill="#00000c"/><rect x="556" y="634" width="178" height="2" fill="#00000c"/><rect x="556" y="645" width="178" height="2" fill="#00000c"/><rect x="556" y="649" width="178" height="2" fill="#00000c"/><rect x="556" y="653" width="178" height="2" fill="#00000c"/><rect x="556" y="657" width="178" height="2" fill="#00000c"/><rect x="556" y="661" width="178" height="3" fill="#00000c"/><rect x="556" y="665" width="178" height="1" fill="#00000c"/><rect x="556" y="668" width="178" height="2" fill="#00000c"/><rect x="556" y="672" width="178" height="3" fill="#00000c"/><rect x="556" y="676" width="178" height="2" fill="#00000c"/><rect x="556" y="681" width="178" height="0.6" fill="#00000c"/><rect x="556" y="684" width="178" height="2" fill="#00000c"/><rect x="556" y="688" width="178" height="1" fill="#00000c"/><rect x="556" y="692" width="178" height="1" fill="#00000c"/><rect x="556" y="699" width="178" height="1" fill="#00000c"/><rect x="556" y="701.5" width="178" height="0.5" fill="#00000c"/><rect x="556" y="717.4" width="178" height="0.6" fill="#00000c"/>
<rect x="556" y="99" width="178" height="4" fill="#fff"/><rect x="556" y="125" width="178" height="5" fill="#fff"/><rect x="556" y="133" width="178" height="1" fill="#fff"/><rect x="556" y="139" width="178" height="1" fill="#fff"/><rect x="556" y="149" width="178" height="1" fill="#fff"/><rect x="556" y="170" width="178" height="1" fill="#fff"/><rect x="556" y="172" width="178" height="4" fill="#fff"/><rect x="556" y="199" width="178" height="1" fill="#fff"/><rect x="556" y="203" width="178" height="1" fill="#fff"/><rect x="556" y="208" width="178" height="11" fill="#fff"/><rect x="556" y="221" width="178" height="1" fill="#fff"/><rect x="556" y="224" width="178" height="1" fill="#fff"/><rect x="556" y="237" width="178" height="2" fill="#fff"/><rect x="556" y="245" width="178" height="4" fill="#fff"/><rect x="556" y="260" width="178" height="1" fill="#fff"/><rect x="556" y="263" width="178" height="1" fill="#fff"/><rect x="556" y="265" width="178" height="32" fill="#fff"/><rect x="556" y="304" width="178" height="1" fill="#fff"/><rect x="556" y="342" width="178" height="1" fill="#fff"/><rect x="556" y="347" width="178" height="2" fill="#fff"/><rect x="556" y="367" width="178" height="1" fill="#fff"/><rect x="556" y="371" width="178" height="1" fill="#fff"/><rect x="556" y="373" width="178" height="1" fill="#fff"/><rect x="556" y="380" width="178" height="5" fill="#fff"/><rect x="556" y="386" width="178" height="1" fill="#fff"/><rect x="556" y="405" width="178" height="1" fill="#fff"/><rect x="556" y="435" width="178" height="3" fill="#fff"/><rect x="556" y="440" width="178" height="1" fill="#fff"/><rect x="556" y="449" width="178" height="1" fill="#fff"/><rect x="556" y="478" width="178" height="1" fill="#fff"/><rect x="556" y="486" width="178" height="1" fill="#fff"/><rect x="556" y="488" width="178" height="3" fill="#fff"/><rect x="556" y="495" width="178" height="1" fill="#fff"/><rect x="556" y="498" width="178" height="4" fill="#fff"/><rect x="556" y="516" width="178" height="2" fill="#fff"/><rect x="556" y="533" width="178" height="1" fill="#fff"/><rect x="556" y="557" width="178" height="2" fill="#fff"/><rect x="556" y="598" width="178" height="1" fill="#fff"/><rect x="556" y="603" width="178" height="1" fill="#fff"/><rect x="556" y="605" width="178" height="1" fill="#fff"/><rect x="556" y="607" width="178" height="2" fill="#fff"/><rect x="556" y="622" width="178" height="1" fill="#fff"/><rect x="556" y="630" width="178" height="1" fill="#fff"/><rect x="556" y="639" width="178" height="1" fill="#fff"/><rect x="556" y="642" width="178" height="1" fill="#fff"/><rect x="556" y="664" width="178" height="1" fill="#fff"/><rect x="556" y="675" width="178" height="1" fill="#fff"/><rect x="556" y="679" width="178" height="2" fill="#fff"/><rect x="556" y="693" width="178" height="3" fill="#fff"/><rect x="556" y="702" width="178" height="3" fill="#fff"/><rect x="556" y="718" width="178" height="1" fill="#fff"/>
</g>
<rect x="556.3" y="80.3" width="177.4" height="640.4" fill="none" stroke="#000" stroke-width="1.4"/>
<path d="M556.5 720v-5.5M556.5 81v5.5M597.5 720v-5.5M597.5 81v5.5M639.5 720v-5.5M639.5 81v5.5M680.5 720v-5.5M680.5 81v5.5M722.5 720v-5.5M722.5 81v5.5M557 720.5h5.5M733 720.5h-5.5M557 587.5h5.5M733 587.5h-5.5M557 453.5h5.5M733 453.5h-5.5M557 320.5h5.5M733 320.5h-5.5M557 187.5h5.5M733 187.5h-5.5" stroke="#000" stroke-width="0.7" fill="none"/>
<text x="556.7" y="736" font-size="12.6" text-anchor="middle" letter-spacing="0.7">320</text><text x="597.7" y="736" font-size="12.6" text-anchor="middle" letter-spacing="0.7">335</text><text x="639.7" y="736" font-size="12.6" text-anchor="middle" letter-spacing="0.7">350</text><text x="680.7" y="736" font-size="12.6" text-anchor="middle" letter-spacing="0.7">365</text><text x="722.7" y="736" font-size="12.6" text-anchor="middle" letter-spacing="0.7">380</text>
<text x="552.4" y="724" font-size="12.6" text-anchor="end" letter-spacing="0.9">0</text><text x="552.4" y="590" font-size="12.6" text-anchor="end" letter-spacing="0.9">5</text><text x="552.4" y="457" font-size="12.6" text-anchor="end" letter-spacing="0.9">10</text><text x="552.4" y="324" font-size="12.6" text-anchor="end" letter-spacing="0.9">15</text><text x="552.4" y="190" font-size="12.6" text-anchor="end" letter-spacing="0.9">20</text>
<text x="644.87" y="72" font-size="15.5" text-anchor="middle" letter-spacing="0.64">XY, V7*V15=EA03*EA26</text>
<g clip-path="url(#cp3)">
<rect x="768" y="80" width="178" height="641" fill="#0019ff"/>
<rect x="768" y="80" width="178" height="23" fill="#002eff"/><rect x="880.15" y="80" width="12.55" height="23" fill="#0094ff"/><rect x="894" y="80" width="12.55" height="23" fill="#00e5f7"/><rect x="907.85" y="80" width="12.55" height="23" fill="#08f0ef"/><rect x="921.7" y="80" width="12.55" height="23" fill="#00b2ff"/>
<rect x="768" y="103" width="178" height="7" fill="#0024ff"/><rect x="880.15" y="103" width="12.55" height="7" fill="#ffd900"/><rect x="894" y="103" width="12.55" height="7" fill="#deff19"/><rect x="907.85" y="103" width="12.55" height="7" fill="#deff19"/><rect x="921.7" y="103" width="12.55" height="7" fill="#efff08"/>
<rect x="768" y="110" width="178" height="11" fill="#002eff"/><rect x="880.15" y="110" width="12.55" height="11" fill="#ffd900"/><rect x="894" y="110" width="12.55" height="11" fill="#ffd900"/><rect x="907.85" y="110" width="12.55" height="11" fill="#ffaa00"/><rect x="921.7" y="110" width="12.55" height="11" fill="#deff19"/>
<rect x="768" y="121" width="178" height="9" fill="#002eff"/><rect x="880.15" y="121" width="12.55" height="9" fill="#ffd000"/><rect x="894" y="121" width="12.55" height="9" fill="#ffbd00"/><rect x="907.85" y="121" width="12.55" height="9" fill="#ff9700"/><rect x="921.7" y="121" width="12.55" height="9" fill="#ffd000"/>
<rect x="768" y="130" width="178" height="4" fill="#0024ff"/><rect x="880.15" y="130" width="12.55" height="4" fill="#ffe300"/><rect x="894" y="130" width="12.55" height="4" fill="#f7f600"/><rect x="907.85" y="130" width="12.55" height="4" fill="#ffd000"/><rect x="921.7" y="130" width="12.55" height="4" fill="#deff19"/>
<rect x="768" y="134" width="178" height="6" fill="#0024ff"/><rect x="880.15" y="134" width="12.55" height="6" fill="#ffe300"/><rect x="894" y="134" width="12.55" height="6" fill="#ffec00"/><rect x="907.85" y="134" width="12.55" height="6" fill="#ffc600"/><rect x="921.7" y="134" width="12.55" height="6" fill="#deff19"/>
<rect x="768" y="140" width="178" height="5" fill="#0024ff"/><rect x="880.15" y="140" width="12.55" height="5" fill="#29ffce"/><rect x="894" y="140" width="12.55" height="5" fill="#3affbd"/><rect x="907.85" y="140" width="12.55" height="5" fill="#3affbd"/><rect x="921.7" y="140" width="12.55" height="5" fill="#6bff8c"/>
<rect x="768" y="145" width="178" height="8" fill="#0024ff"/><rect x="880.15" y="145" width="12.55" height="8" fill="#00b2ff"/><rect x="894" y="145" width="12.55" height="8" fill="#008aff"/><rect x="907.85" y="145" width="12.55" height="8" fill="#008aff"/><rect x="921.7" y="145" width="12.55" height="8" fill="#00b2ff"/>
<rect x="768" y="153" width="178" height="10" fill="#0005ff"/><rect x="880.15" y="153" width="12.55" height="10" fill="#bdff3a"/><rect x="894" y="153" width="12.55" height="10" fill="#6bff8c"/><rect x="907.85" y="153" width="12.55" height="10" fill="#5aff9c"/><rect x="921.7" y="153" width="12.55" height="10" fill="#adff4a"/>
<rect x="768" y="163" width="178" height="13" fill="#0019ff"/><rect x="880.15" y="163" width="12.55" height="13" fill="#adff4a"/><rect x="894" y="163" width="12.55" height="13" fill="#5aff9c"/><rect x="907.85" y="163" width="12.55" height="13" fill="#5aff9c"/><rect x="921.7" y="163" width="12.55" height="13" fill="#9cff5a"/>
<rect x="768" y="176" width="178" height="13" fill="#0024ff"/><rect x="880.15" y="176" width="12.55" height="13" fill="#bdff3a"/><rect x="894" y="176" width="12.55" height="13" fill="#deff19"/><rect x="907.85" y="176" width="12.55" height="13" fill="#bdff3a"/><rect x="921.7" y="176" width="12.55" height="13" fill="#deff19"/>
<rect x="768" y="189" width="178" height="10" fill="#0024ff"/><rect x="880.15" y="189" width="12.55" height="10" fill="#ffec00"/><rect x="894" y="189" width="12.55" height="10" fill="#8cff6b"/><rect x="907.85" y="189" width="12.55" height="10" fill="#adff4a"/><rect x="921.7" y="189" width="12.55" height="10" fill="#9cff5a"/>
<rect x="768" y="199" width="178" height="20" fill="#0024ff"/><rect x="880.15" y="199" width="12.55" height="20" fill="#ffec00"/><rect x="894" y="199" width="12.55" height="20" fill="#deff19"/><rect x="907.85" y="199" width="12.55" height="20" fill="#adff4a"/><rect x="921.7" y="199" width="12.55" height="20" fill="#adff4a"/>
<rect x="768" y="219" width="178" height="7" fill="#0019ff"/><rect x="880.15" y="219" width="12.55" height="7" fill="#7bff7b"/><rect x="894" y="219" width="12.55" height="7" fill="#deff19"/><rect x="907.85" y="219" width="12.55" height="7" fill="#9cff5a"/><rect x="921.7" y="219" width="12.55" height="7" fill="#adff4a"/>
<rect x="768" y="226" width="178" height="6" fill="#0000ff"/><rect x="880.15" y="226" width="12.55" height="6" fill="#bdff3a"/><rect x="894" y="226" width="12.55" height="6" fill="#bdff3a"/><rect x="907.85" y="226" width="12.55" height="6" fill="#deff19"/><rect x="921.7" y="226" width="12.55" height="6" fill="#ceff29"/>
<rect x="768" y="232" width="178" height="8" fill="#000fff"/><rect x="880.15" y="232" width="12.55" height="8" fill="#bdff3a"/><rect x="894" y="232" width="12.55" height="8" fill="#9cff5a"/><rect x="907.85" y="232" width="12.55" height="8" fill="#9cff5a"/><rect x="921.7" y="232" width="12.55" height="8" fill="#8cff6b"/>
<rect x="768" y="240" width="178" height="9" fill="#0019ff"/><rect x="880.15" y="240" width="12.55" height="9" fill="#ceff29"/><rect x="894" y="240" width="12.55" height="9" fill="#9cff5a"/><rect x="907.85" y="240" width="12.55" height="9" fill="#bdff3a"/><rect x="921.7" y="240" width="12.55" height="9" fill="#8cff6b"/>
<rect x="768" y="249" width="178" height="9" fill="#0019ff"/><rect x="880.15" y="249" width="12.55" height="9" fill="#ffec00"/><rect x="894" y="249" width="12.55" height="9" fill="#ffc600"/><rect x="907.85" y="249" width="12.55" height="9" fill="#efff08"/><rect x="921.7" y="249" width="12.55" height="9" fill="#ceff29"/>
<rect x="768" y="258" width="178" height="39" fill="#0024ff"/><rect x="880.15" y="258" width="12.55" height="39" fill="#deff19"/><rect x="894" y="258" width="12.55" height="39" fill="#deff19"/><rect x="907.85" y="258" width="12.55" height="39" fill="#ffd900"/><rect x="921.7" y="258" width="12.55" height="39" fill="#ffd900"/>
<rect x="768" y="297" width="178" height="12" fill="#0005ff"/><rect x="880.15" y="297" width="12.55" height="12" fill="#9cff5a"/><rect x="894" y="297" width="12.55" height="12" fill="#deff19"/><rect x="907.85" y="297" width="12.55" height="12" fill="#deff19"/><rect x="921.7" y="297" width="12.55" height="12" fill="#8cff6b"/>
<rect x="768" y="309" width="178" height="7" fill="#000fff"/><rect x="880.15" y="309" width="12.55" height="7" fill="#adff4a"/><rect x="894" y="309" width="12.55" height="7" fill="#ceff29"/><rect x="907.85" y="309" width="12.55" height="7" fill="#9cff5a"/><rect x="921.7" y="309" width="12.55" height="7" fill="#9cff5a"/>
<rect x="768" y="316" width="178" height="9" fill="#000fff"/><rect x="880.15" y="316" width="12.55" height="9" fill="#adff4a"/><rect x="894" y="316" width="12.55" height="9" fill="#bdff3a"/><rect x="907.85" y="316" width="12.55" height="9" fill="#8cff6b"/><rect x="921.7" y="316" width="12.55" height="9" fill="#8cff6b"/>
<rect x="768" y="325" width="178" height="10" fill="#000fff"/><rect x="880.15" y="325" width="12.55" height="10" fill="#ffe300"/><rect x="894" y="325" width="12.55" height="10" fill="#ceff29"/><rect x="907.85" y="325" width="12.55" height="10" fill="#deff19"/><rect x="921.7" y="325" width="12.55" height="10" fill="#e6ff10"/>
<rect x="768" y="335" width="178" height="14" fill="#000fff"/><rect x="880.15" y="335" width="12.55" height="14" fill="#ffec00"/><rect x="894" y="335" width="12.55" height="14" fill="#c5ff31"/><rect x="907.85" y="335" width="12.55" height="14" fill="#ceff29"/><rect x="921.7" y="335" width="12.55" height="14" fill="#deff19"/>
<rect x="768" y="349" width="178" height="11" fill="#000fff"/><rect x="880.15" y="349" width="12.55" height="11" fill="#efff08"/><rect x="894" y="349" width="12.55" height="11" fill="#adff4a"/><rect x="907.85" y="349" width="12.55" height="11" fill="#bdff3a"/><rect x="921.7" y="349" width="12.55" height="11" fill="#ceff29"/>
<rect x="768" y="360" width="178" height="15" fill="#000fff"/><rect x="880.15" y="360" width="12.55" height="15" fill="#deff19"/><rect x="894" y="360" width="12.55" height="15" fill="#ceff29"/><rect x="907.85" y="360" width="12.55" height="15" fill="#adff4a"/><rect x="921.7" y="360" width="12.55" height="15" fill="#adff4a"/>
<rect x="768" y="375" width="178" height="10" fill="#0024ff"/><rect x="880.15" y="375" width="12.55" height="10" fill="#deff19"/><rect x="894" y="375" width="12.55" height="10" fill="#deff19"/><rect x="907.85" y="375" width="12.55" height="10" fill="#deff19"/><rect x="921.7" y="375" width="12.55" height="10" fill="#deff19"/>
<rect x="768" y="385" width="178" height="13" fill="#0019ff"/><rect x="880.15" y="385" width="12.55" height="13" fill="#29ffce"/><rect x="894" y="385" width="12.55" height="13" fill="#4affad"/><rect x="907.85" y="385" width="12.55" height="13" fill="#4affad"/><rect x="921.7" y="385" width="12.55" height="13" fill="#29ffce"/>
<rect x="768" y="398" width="178" height="16" fill="#000fff"/><rect x="880.15" y="398" width="12.55" height="16" fill="#19ffde"/><rect x="894" y="398" width="12.55" height="16" fill="#29ffce"/><rect x="907.85" y="398" width="12.55" height="16" fill="#19ffde"/><rect x="921.7" y="398" width="12.55" height="16" fill="#19ffde"/>
<rect x="768" y="414" width="178" height="15" fill="#000fff"/><rect x="880.15" y="414" width="12.55" height="15" fill="#42ffb5"/><rect x="894" y="414" width="12.55" height="15" fill="#42ffb5"/><rect x="907.85" y="414" width="12.55" height="15" fill="#42ffb5"/><rect x="921.7" y="414" width="12.55" height="15" fill="#42ffb5"/>
<rect x="768" y="429" width="178" height="9" fill="#0019ff"/><rect x="880.15" y="429" width="12.55" height="9" fill="#52ffa5"/><rect x="894" y="429" width="12.55" height="9" fill="#52ffa5"/><rect x="907.85" y="429" width="12.55" height="9" fill="#52ffa5"/><rect x="921.7" y="429" width="12.55" height="9" fill="#52ffa5"/>
<rect x="768" y="438" width="178" height="5" fill="#0019ff"/><rect x="880.15" y="438" width="12.55" height="5" fill="#ffd900"/><rect x="894" y="438" width="12.55" height="5" fill="#deff19"/><rect x="907.85" y="438" width="12.55" height="5" fill="#ffc600"/><rect x="921.7" y="438" width="12.55" height="5" fill="#ffc600"/>
<rect x="768" y="443" width="178" height="6" fill="#0019ff"/><rect x="880.15" y="443" width="12.55" height="6" fill="#efff08"/><rect x="894" y="443" width="12.55" height="6" fill="#deff19"/><rect x="907.85" y="443" width="12.55" height="6" fill="#ffd900"/><rect x="921.7" y="443" width="12.55" height="6" fill="#ffbd00"/>
<rect x="768" y="449" width="178" height="5" fill="#0019ff"/><rect x="880.15" y="449" width="12.55" height="5" fill="#ffd900"/><rect x="894" y="449" width="12.55" height="5" fill="#ffec00"/><rect x="907.85" y="449" width="12.55" height="5" fill="#efff08"/><rect x="921.7" y="449" width="12.55" height="5" fill="#ffd900"/>
<rect x="768" y="454" width="178" height="10" fill="#0019ff"/><rect x="880.15" y="454" width="12.55" height="10" fill="#ffec00"/><rect x="894" y="454" width="12.55" height="10" fill="#ffec00"/><rect x="907.85" y="454" width="12.55" height="10" fill="#ffd900"/><rect x="921.7" y="454" width="12.55" height="10" fill="#ffec00"/>
<rect x="768" y="464" width="178" height="8" fill="#0024ff"/><rect x="880.15" y="464" width="12.55" height="8" fill="#deff19"/><rect x="894" y="464" width="12.55" height="8" fill="#ceff29"/><rect x="907.85" y="464" width="12.55" height="8" fill="#deff19"/><rect x="921.7" y="464" width="12.55" height="8" fill="#deff19"/>
<rect x="768" y="472" width="178" height="6" fill="#0024ff"/><rect x="880.15" y="472" width="12.55" height="6" fill="#ffc600"/><rect x="894" y="472" width="12.55" height="6" fill="#efff08"/><rect x="907.85" y="472" width="12.55" height="6" fill="#deff19"/><rect x="921.7" y="472" width="12.55" height="6" fill="#deff19"/>
<rect x="768" y="478" width="178" height="10" fill="#0024ff"/><rect x="880.15" y="478" width="12.55" height="10" fill="#ffbd00"/><rect x="894" y="478" width="12.55" height="10" fill="#ffd900"/><rect x="907.85" y="478" width="12.55" height="10" fill="#ffc600"/><rect x="921.7" y="478" width="12.55" height="10" fill="#ffc600"/>
<rect x="768" y="488" width="178" height="10" fill="#0024ff"/><rect x="880.15" y="488" width="12.55" height="10" fill="#efff08"/><rect x="894" y="488" width="12.55" height="10" fill="#ffd900"/><rect x="907.85" y="488" width="12.55" height="10" fill="#deff19"/><rect x="921.7" y="488" width="12.55" height="10" fill="#deff19"/>
<rect x="768" y="498" width="178" height="7" fill="#002eff"/><rect x="880.15" y="498" width="12.55" height="7" fill="#deff19"/><rect x="894" y="498" width="12.55" height="7" fill="#adff4a"/><rect x="907.85" y="498" width="12.55" height="7" fill="#bdff3a"/><rect x="921.7" y="498" width="12.55" height="7" fill="#9cff5a"/>
<rect x="768" y="505" width="178" height="10" fill="#004dff"/><rect x="880.15" y="505" width="12.55" height="10" fill="#ffec00"/><rect x="894" y="505" width="12.55" height="10" fill="#ffa100"/><rect x="907.85" y="505" width="12.55" height="10" fill="#ffd900"/><rect x="921.7" y="505" width="12.55" height="10" fill="#ffd900"/>
<rect x="768" y="515" width="178" height="11" fill="#0024ff"/><rect x="880.15" y="515" width="12.55" height="11" fill="#efff08"/><rect x="894" y="515" width="12.55" height="11" fill="#ffd900"/><rect x="907.85" y="515" width="12.55" height="11" fill="#ffd900"/><rect x="921.7" y="515" width="12.55" height="11" fill="#deff19"/>
<rect x="768" y="526" width="178" height="11" fill="#0024ff"/><rect x="880.15" y="526" width="12.55" height="11" fill="#ffec00"/><rect x="894" y="526" width="12.55" height="11" fill="#ffd900"/><rect x="907.85" y="526" width="12.55" height="11" fill="#efff08"/><rect x="921.7" y="526" width="12.55" height="11" fill="#bdff3a"/>
<rect x="768" y="537" width="178" height="11" fill="#0019ff"/><rect x="880.15" y="537" width="12.55" height="11" fill="#d6ff21"/><rect x="894" y="537" width="12.55" height="11" fill="#e6ff10"/><rect x="907.85" y="537" width="12.55" height="11" fill="#f7f600"/><rect x="921.7" y="537" width="12.55" height="11" fill="#d6ff21"/>
<rect x="768" y="548" width="178" height="11" fill="#0019ff"/><rect x="880.15" y="548" width="12.55" height="11" fill="#d6ff21"/><rect x="894" y="548" width="12.55" height="11" fill="#f7f600"/><rect x="907.85" y="548" width="12.55" height="11" fill="#e6ff10"/><rect x="921.7" y="548" width="12.55" height="11" fill="#c5ff31"/>
<rect x="768" y="559" width="178" height="11" fill="#0019ff"/><rect x="880.15" y="559" width="12.55" height="11" fill="#ffec00"/><rect x="894" y="559" width="12.55" height="11" fill="#c5ff31"/><rect x="907.85" y="559" width="12.55" height="11" fill="#ffec00"/><rect x="921.7" y="559" width="12.55" height="11" fill="#e6ff10"/>
<rect x="768" y="570" width="178" height="11" fill="#0019ff"/><rect x="880.15" y="570" width="12.55" height="11" fill="#f7f600"/><rect x="894" y="570" width="12.55" height="11" fill="#c5ff31"/><rect x="907.85" y="570" width="12.55" height="11" fill="#e6ff10"/><rect x="921.7" y="570" width="12.55" height="11" fill="#c5ff31"/>
<rect x="768" y="581" width="178" height="11" fill="#0019ff"/><rect x="880.15" y="581" width="12.55" height="11" fill="#ffec00"/><rect x="894" y="581" width="12.55" height="11" fill="#ffc600"/><rect x="907.85" y="581" width="12.55" height="11" fill="#f7f600"/><rect x="921.7" y="581" width="12.55" height="11" fill="#c5ff31"/>
<rect x="768" y="592" width="178" height="10" fill="#0019ff"/><rect x="880.15" y="592" width="12.55" height="10" fill="#efff08"/><rect x="894" y="592" width="12.55" height="10" fill="#e6ff10"/><rect x="907.85" y="592" width="12.55" height="10" fill="#e6ff10"/><rect x="921.7" y="592" width="12.55" height="10" fill="#d6ff21"/>
<rect x="768" y="602" width="178" height="7" fill="#0024ff"/><rect x="880.15" y="602" width="12.55" height="7" fill="#adff4a"/><rect x="894" y="602" width="12.55" height="7" fill="#deff19"/><rect x="907.85" y="602" width="12.55" height="7" fill="#adff4a"/><rect x="921.7" y="602" width="12.55" height="7" fill="#9cff5a"/>
<rect x="768" y="609" width="178" height="3" fill="#0024ff"/><rect x="880.15" y="609" width="12.55" height="3" fill="#08f0ef"/><rect x="894" y="609" width="12.55" height="3" fill="#08f0ef"/><rect x="907.85" y="609" width="12.55" height="3" fill="#08f0ef"/><rect x="921.7" y="609" width="12.55" height="3" fill="#08f0ef"/>
<rect x="768" y="612" width="178" height="8" fill="#0019ff"/><rect x="880.15" y="612" width="12.55" height="8" fill="#adff4a"/><rect x="894" y="612" width="12.55" height="8" fill="#5aff9c"/><rect x="907.85" y="612" width="12.55" height="8" fill="#4affad"/><rect x="921.7" y="612" width="12.55" height="8" fill="#19ffde"/>
<rect x="768" y="620" width="178" height="11" fill="#0019ff"/><rect x="880.15" y="620" width="12.55" height="11" fill="#3affbd"/><rect x="894" y="620" width="12.55" height="11" fill="#5aff9c"/><rect x="907.85" y="620" width="12.55" height="11" fill="#3affbd"/><rect x="921.7" y="620" width="12.55" height="11" fill="#00dbff"/>
<rect x="768" y="631" width="178" height="12" fill="#002eff"/><rect x="880.15" y="631" width="12.55" height="12" fill="#29ffce"/><rect x="894" y="631" width="12.55" height="12" fill="#19ffde"/><rect x="907.85" y="631" width="12.55" height="12" fill="#08f0ef"/><rect x="921.7" y="631" width="12.55" height="12" fill="#00dbff"/>
<rect x="768" y="643" width="178" height="50" fill="#0048ff"/><rect x="880.15" y="643" width="12.55" height="50" fill="#10fae6"/><rect x="894" y="643" width="12.55" height="50" fill="#08f0ef"/><rect x="907.85" y="643" width="12.55" height="50" fill="#00e5f7"/><rect x="921.7" y="643" width="12.55" height="50" fill="#00d1ff"/>
<rect x="768" y="693" width="178" height="12" fill="#0038ff"/><rect x="880.15" y="693" width="12.55" height="12" fill="#00dbff"/><rect x="894" y="693" width="12.55" height="12" fill="#009eff"/><rect x="907.85" y="693" width="12.55" height="12" fill="#009eff"/><rect x="921.7" y="693" width="12.55" height="12" fill="#009eff"/>
<rect x="768" y="705" width="178" height="14" fill="#002eff"/><rect x="880.15" y="705" width="12.55" height="14" fill="#efff08"/><rect x="894" y="705" width="12.55" height="14" fill="#ffc600"/><rect x="907.85" y="705" width="12.55" height="14" fill="#ffec00"/><rect x="921.7" y="705" width="12.55" height="14" fill="#bdff3a"/>
<rect x="768" y="719" width="178" height="1" fill="#0024ff"/><rect x="880.15" y="719" width="12.55" height="1" fill="#4affad"/><rect x="894" y="719" width="12.55" height="1" fill="#3affbd"/><rect x="907.85" y="719" width="12.55" height="1" fill="#3affbd"/><rect x="921.7" y="719" width="12.55" height="1" fill="#08f0ef"/>

<rect x="864" y="468" width="16" height="14" fill="url(#glw)"/><rect x="768" y="80" width="112.05" height="641" filter="url(#nz)"/>
<rect x="934.25" y="80" width="11.75" height="641" filter="url(#nz)"/>
<rect x="880.15" y="99" width="54.1" height="41" filter="url(#nzb)"/>
<rect x="880.15" y="153" width="54.1" height="144" filter="url(#nzb)"/>
<rect x="880.15" y="297" width="54.1" height="12" filter="url(#nzy)"/>
<rect x="880.15" y="309" width="54.1" height="7" filter="url(#nzy)"/>
<rect x="880.15" y="316" width="54.1" height="9" filter="url(#nzy)"/>
<rect x="880.15" y="325" width="54.1" height="10" filter="url(#nzh)"/>
<rect x="880.15" y="335" width="54.1" height="14" filter="url(#nzh)"/>
<rect x="880.15" y="349" width="54.1" height="11" filter="url(#nzh)"/>
<rect x="880.15" y="360" width="54.1" height="15" filter="url(#nzy)"/>
<rect x="880.15" y="375" width="54.1" height="10" filter="url(#nzh)"/>
<rect x="880.15" y="434" width="54.1" height="4" filter="url(#nzy)"/>
<rect x="880.15" y="438" width="54.1" height="5" filter="url(#nzh)"/>
<rect x="880.15" y="443" width="54.1" height="6" filter="url(#nzh)"/>
<rect x="880.15" y="449" width="54.1" height="5" filter="url(#nzh)"/>
<rect x="880.15" y="454" width="54.1" height="10" filter="url(#nzh)"/>
<rect x="880.15" y="464" width="54.1" height="8" filter="url(#nzh)"/>
<rect x="880.15" y="472" width="54.1" height="6" filter="url(#nzh)"/>
<rect x="880.15" y="478" width="54.1" height="10" filter="url(#nzh)"/>
<rect x="880.15" y="488" width="54.1" height="10" filter="url(#nzh)"/>
<rect x="880.15" y="498" width="54.1" height="7" filter="url(#nzy)"/>
<rect x="880.15" y="505" width="54.1" height="10" filter="url(#nzh)"/>
<rect x="880.15" y="515" width="54.1" height="11" filter="url(#nzh)"/>
<rect x="880.15" y="526" width="54.1" height="11" filter="url(#nzh)"/>
<rect x="880.15" y="537" width="54.1" height="11" filter="url(#nzh)"/>
<rect x="880.15" y="548" width="54.1" height="11" filter="url(#nzh)"/>
<rect x="880.15" y="559" width="54.1" height="11" filter="url(#nzh)"/>
<rect x="880.15" y="570" width="54.1" height="11" filter="url(#nzh)"/>
<rect x="880.15" y="581" width="54.1" height="11" filter="url(#nzh)"/>
<rect x="880.15" y="592" width="54.1" height="10" filter="url(#nzh)"/>
<rect x="880.15" y="602" width="54.1" height="7" filter="url(#nzy)"/>
<rect x="880.15" y="612" width="54.1" height="8" filter="url(#nzy)"/>
<rect x="880.15" y="705" width="54.1" height="14" filter="url(#nzh)"/>
<rect x="880.15" y="719" width="54.1" height="1" filter="url(#nzy)"/>
<rect x="865" y="110" width="15" height="11" fill="url(#bl3)" opacity="0.85"/>
<rect x="880.15" y="80" width="54.1" height="19" filter="url(#nz)" opacity="0.75"/>
<rect x="880.15" y="140" width="54.1" height="13" filter="url(#nz)" opacity="0.75"/>
<rect x="880.15" y="385" width="54.1" height="49" filter="url(#nz)" opacity="0.75"/>
<rect x="880.15" y="609" width="54.1" height="3" filter="url(#nz)" opacity="0.75"/>
<rect x="880.15" y="620" width="54.1" height="85" filter="url(#nz)" opacity="0.75"/>
<rect x="892.7" y="80" width="1.3" height="640" fill="#0008f0"/><rect x="906.55" y="80" width="1.3" height="640" fill="#0008f0"/><rect x="920.4" y="80" width="1.3" height="640" fill="#0008f0"/>
<rect x="891.4" y="80" width="3.9" height="19" fill="#0020ff" opacity="0.55"/><rect x="905.25" y="80" width="3.9" height="19" fill="#0020ff" opacity="0.55"/><rect x="919.1" y="80" width="3.9" height="19" fill="#0020ff" opacity="0.55"/><rect x="880.15" y="80" width="1.5" height="19" fill="#0020ff" opacity="0.5"/><rect x="932.75" y="80" width="1.5" height="19" fill="#0020ff" opacity="0.5"/><rect x="891.4" y="140" width="3.9" height="13" fill="#0020ff" opacity="0.55"/><rect x="905.25" y="140" width="3.9" height="13" fill="#0020ff" opacity="0.55"/><rect x="919.1" y="140" width="3.9" height="13" fill="#0020ff" opacity="0.55"/><rect x="880.15" y="140" width="1.5" height="13" fill="#0020ff" opacity="0.5"/><rect x="932.75" y="140" width="1.5" height="13" fill="#0020ff" opacity="0.5"/><rect x="891.4" y="385" width="3.9" height="49" fill="#0020ff" opacity="0.55"/><rect x="905.25" y="385" width="3.9" height="49" fill="#0020ff" opacity="0.55"/><rect x="919.1" y="385" width="3.9" height="49" fill="#0020ff" opacity="0.55"/><rect x="880.15" y="385" width="1.5" height="49" fill="#0020ff" opacity="0.5"/><rect x="932.75" y="385" width="1.5" height="49" fill="#0020ff" opacity="0.5"/><rect x="891.4" y="620" width="3.9" height="85" fill="#0020ff" opacity="0.55"/><rect x="905.25" y="620" width="3.9" height="85" fill="#0020ff" opacity="0.55"/><rect x="919.1" y="620" width="3.9" height="85" fill="#0020ff" opacity="0.55"/><rect x="880.15" y="620" width="1.5" height="85" fill="#0020ff" opacity="0.5"/><rect x="932.75" y="620" width="1.5" height="85" fill="#0020ff" opacity="0.5"/>
<rect x="778" y="413" width="1" height="1" fill="#08f0ef"/><rect x="778" y="415" width="1" height="4" fill="#10fae6"/><rect x="830" y="165" width="22" height="1" fill="#0080ff"/><rect x="835" y="165" width="12" height="1" fill="#08f0ef"/><rect x="839" y="165" width="5" height="1" fill="#adff4a"/><rect x="840.6" y="164.7" width="1.8" height="1.4" fill="#ff2600"/><rect x="830" y="154" width="1" height="1.2" fill="#deff19"/><rect x="830" y="158" width="1" height="1" fill="#8cff6b"/><rect x="830" y="160.3" width="1" height="1" fill="#08f0ef"/><rect x="861.5" y="158" width="2" height="1" fill="#ceff29"/><rect x="862" y="161" width="1" height="1.2" fill="#ff4200"/><rect x="862.3" y="165" width="1" height="1.6" fill="#19ffde"/><rect x="862.3" y="168" width="1" height="1.6" fill="#3affbd"/>
<rect x="768" y="104" width="178" height="1" fill="#00000c"/><rect x="768" y="109" width="178" height="1" fill="#00000c"/><rect x="768" y="153" width="178" height="1" fill="#00000c"/><rect x="768" y="156" width="178" height="1" fill="#00000c"/><rect x="768" y="189" width="178" height="1" fill="#00000c"/><rect x="768" y="207" width="178" height="1" fill="#00000c"/><rect x="768" y="226" width="178" height="1" fill="#00000c"/><rect x="768" y="228" width="178" height="1" fill="#00000c"/><rect x="768" y="232" width="178" height="1" fill="#00000c"/><rect x="768" y="241" width="178" height="1" fill="#00000c"/><rect x="768" y="258" width="178" height="1" fill="#00000c"/><rect x="768" y="264" width="178" height="1" fill="#00000c"/><rect x="768" y="300" width="178" height="1" fill="#00000c"/><rect x="768" y="305" width="178" height="0.5" fill="#00000c"/><rect x="768" y="308" width="178" height="2" fill="#00000c"/><rect x="768" y="314" width="178" height="1" fill="#00000c"/><rect x="768" y="316" width="178" height="1" fill="#00000c"/><rect x="768" y="324" width="178" height="2" fill="#00000c"/><rect x="768" y="334" width="178" height="1" fill="#00000c"/><rect x="768" y="336" width="178" height="1" fill="#00000c"/><rect x="768" y="345" width="178" height="1" fill="#00000c"/><rect x="768" y="349" width="178" height="1" fill="#00000c"/><rect x="768" y="352" width="178" height="1" fill="#00000c"/><rect x="768" y="360" width="178" height="1" fill="#00000c"/><rect x="768" y="363" width="178" height="1" fill="#00000c"/><rect x="768" y="372" width="178" height="1" fill="#00000c"/><rect x="768" y="375" width="178" height="1" fill="#00000c"/><rect x="768" y="387" width="178" height="1" fill="#00000c"/><rect x="768" y="398" width="178" height="1" fill="#00000c"/><rect x="768" y="407" width="178" height="1" fill="#00000c"/><rect x="768" y="414" width="178" height="1" fill="#00000c"/><rect x="768" y="419" width="178" height="1" fill="#00000c"/><rect x="768" y="422" width="178" height="1" fill="#00000c"/><rect x="768" y="433" width="178" height="2" fill="#00000c"/><rect x="768" y="443" width="178" height="1" fill="#00000c"/><rect x="768" y="454" width="178" height="1" fill="#00000c"/><rect x="768" y="464" width="178" height="1" fill="#00000c"/><rect x="768" y="504" width="178" height="3" fill="#00000c"/><rect x="768" y="512" width="178" height="1" fill="#00000c"/><rect x="768" y="515" width="178" height="1" fill="#00000c"/><rect x="768" y="523" width="178" height="1" fill="#00000c"/><rect x="768" y="526" width="178" height="1" fill="#00000c"/><rect x="768" y="534" width="178" height="1" fill="#00000c"/><rect x="768" y="537" width="178" height="1" fill="#00000c"/><rect x="768" y="545" width="178" height="1" fill="#00000c"/><rect x="768" y="548" width="178" height="1" fill="#00000c"/><rect x="768" y="556" width="178" height="1" fill="#00000c"/><rect x="768" y="559" width="178" height="1" fill="#00000c"/><rect x="768" y="567" width="178" height="1" fill="#00000c"/><rect x="768" y="570" width="178" height="1" fill="#00000c"/><rect x="768" y="578" width="178" height="1" fill="#00000c"/><rect x="768" y="581" width="178" height="1" fill="#00000c"/><rect x="768" y="589" width="178" height="1" fill="#00000c"/><rect x="768" y="592" width="178" height="1" fill="#00000c"/><rect x="768" y="600" width="178" height="1" fill="#00000c"/><rect x="768" y="612" width="178" height="1" fill="#00000c"/><rect x="768" y="619" width="178" height="1" fill="#00000c"/><rect x="768" y="623" width="178" height="1" fill="#00000c"/><rect x="768" y="627" width="178" height="1" fill="#00000c"/><rect x="768" y="631" width="178" height="1" fill="#00000c"/><rect x="768" y="634" width="178" height="2" fill="#00000c"/><rect x="768" y="645" width="178" height="2" fill="#00000c"/><rect x="768" y="649" width="178" height="2" fill="#00000c"/><rect x="768" y="653" width="178" height="2" fill="#00000c"/><rect x="768" y="657" width="178" height="2" fill="#00000c"/><rect x="768" y="661" width="178" height="3" fill="#00000c"/><rect x="768" y="665" width="178" height="1" fill="#00000c"/><rect x="768" y="668" width="178" height="2" fill="#00000c"/><rect x="768" y="672" width="178" height="3" fill="#00000c"/><rect x="768" y="676" width="178" height="2" fill="#00000c"/><rect x="768" y="681" width="178" height="0.6" fill="#00000c"/><rect x="768" y="684" width="178" height="2" fill="#00000c"/><rect x="768" y="688" width="178" height="1" fill="#00000c"/><rect x="768" y="692" width="178" height="1" fill="#00000c"/><rect x="768" y="699" width="178" height="1" fill="#00000c"/><rect x="768" y="701.5" width="178" height="0.5" fill="#00000c"/><rect x="768" y="717.4" width="178" height="0.6" fill="#00000c"/>
<rect x="768" y="99" width="178" height="4" fill="#fff"/><rect x="768" y="125" width="178" height="5" fill="#fff"/><rect x="768" y="133" width="178" height="1" fill="#fff"/><rect x="768" y="139" width="178" height="1" fill="#fff"/><rect x="768" y="149" width="178" height="1" fill="#fff"/><rect x="768" y="170" width="178" height="1" fill="#fff"/><rect x="768" y="172" width="178" height="4" fill="#fff"/><rect x="768" y="199" width="178" height="1" fill="#fff"/><rect x="768" y="203" width="178" height="1" fill="#fff"/><rect x="768" y="208" width="178" height="11" fill="#fff"/><rect x="768" y="221" width="178" height="1" fill="#fff"/><rect x="768" y="224" width="178" height="1" fill="#fff"/><rect x="768" y="237" width="178" height="2" fill="#fff"/><rect x="768" y="245" width="178" height="4" fill="#fff"/><rect x="768" y="260" width="178" height="1" fill="#fff"/><rect x="768" y="263" width="178" height="1" fill="#fff"/><rect x="768" y="265" width="178" height="32" fill="#fff"/><rect x="768" y="304" width="178" height="1" fill="#fff"/><rect x="768" y="342" width="178" height="1" fill="#fff"/><rect x="768" y="347" width="178" height="2" fill="#fff"/><rect x="768" y="367" width="178" height="1" fill="#fff"/><rect x="768" y="371" width="178" height="1" fill="#fff"/><rect x="768" y="373" width="178" height="1" fill="#fff"/><rect x="768" y="380" width="178" height="5" fill="#fff"/><rect x="768" y="386" width="178" height="1" fill="#fff"/><rect x="768" y="405" width="178" height="1" fill="#fff"/><rect x="768" y="435" width="178" height="3" fill="#fff"/><rect x="768" y="440" width="178" height="1" fill="#fff"/><rect x="768" y="449" width="178" height="1" fill="#fff"/><rect x="768" y="478" width="178" height="1" fill="#fff"/><rect x="768" y="486" width="178" height="1" fill="#fff"/><rect x="768" y="488" width="178" height="3" fill="#fff"/><rect x="768" y="495" width="178" height="1" fill="#fff"/><rect x="768" y="498" width="178" height="4" fill="#fff"/><rect x="768" y="516" width="178" height="2" fill="#fff"/><rect x="768" y="533" width="178" height="1" fill="#fff"/><rect x="768" y="557" width="178" height="2" fill="#fff"/><rect x="768" y="598" width="178" height="1" fill="#fff"/><rect x="768" y="603" width="178" height="1" fill="#fff"/><rect x="768" y="605" width="178" height="1" fill="#fff"/><rect x="768" y="607" width="178" height="2" fill="#fff"/><rect x="768" y="622" width="178" height="1" fill="#fff"/><rect x="768" y="630" width="178" height="1" fill="#fff"/><rect x="768" y="639" width="178" height="1" fill="#fff"/><rect x="768" y="642" width="178" height="1" fill="#fff"/><rect x="768" y="664" width="178" height="1" fill="#fff"/><rect x="768" y="675" width="178" height="1" fill="#fff"/><rect x="768" y="679" width="178" height="2" fill="#fff"/><rect x="768" y="693" width="178" height="3" fill="#fff"/><rect x="768" y="702" width="178" height="3" fill="#fff"/><rect x="768" y="718" width="178" height="1" fill="#fff"/>
</g>
<rect x="768.3" y="80.3" width="177.4" height="640.4" fill="none" stroke="#000" stroke-width="1.4"/>
<path d="M768.5 720v-5.5M768.5 81v5.5M810.5 720v-5.5M810.5 81v5.5M851.5 720v-5.5M851.5 81v5.5M892.5 720v-5.5M892.5 81v5.5M934.5 720v-5.5M934.5 81v5.5M769 720.5h5.5M945 720.5h-5.5M769 587.5h5.5M945 587.5h-5.5M769 453.5h5.5M945 453.5h-5.5M769 320.5h5.5M945 320.5h-5.5M769 187.5h5.5M945 187.5h-5.5" stroke="#000" stroke-width="0.7" fill="none"/>
<text x="768.7" y="736" font-size="12.6" text-anchor="middle" letter-spacing="0.7">320</text><text x="810.7" y="736" font-size="12.6" text-anchor="middle" letter-spacing="0.7">335</text><text x="851.7" y="736" font-size="12.6" text-anchor="middle" letter-spacing="0.7">350</text><text x="892.7" y="736" font-size="12.6" text-anchor="middle" letter-spacing="0.7">365</text><text x="934.7" y="736" font-size="12.6" text-anchor="middle" letter-spacing="0.7">380</text>
<text x="764.4" y="724" font-size="12.6" text-anchor="end" letter-spacing="0.9">0</text><text x="764.4" y="590" font-size="12.6" text-anchor="end" letter-spacing="0.9">5</text><text x="764.4" y="457" font-size="12.6" text-anchor="end" letter-spacing="0.9">10</text><text x="764.4" y="324" font-size="12.6" text-anchor="end" letter-spacing="0.9">15</text><text x="764.4" y="190" font-size="12.6" text-anchor="end" letter-spacing="0.9">20</text>
<text x="857.12" y="72" font-size="15.5" text-anchor="middle" letter-spacing="0.54">YX, V7*V15=EA03*EA26</text>
<text x="589.68" y="25.9" font-size="12.6" text-anchor="middle" letter-spacing="0.76">2020-12-21 0.0-24.0</text>
<text x="484.28" y="754.8" font-size="12.6" text-anchor="middle" letter-spacing="0.76">frequency (MHz)</text>
<text transform="translate(100.4 400.2) rotate(-90)" x="0.28" y="0" font-size="12.6" text-anchor="middle" letter-spacing="0.55">UT (hours)</text>
<rect x="1019.3" y="160.3" width="15.4" height="480.4" fill="url(#cb)" stroke="#000" stroke-width="1.4"/>
<path d="M1020 640.5h5M1034 640.5h-5M1020 544.5h5M1034 544.5h-5M1020 448.5h5M1034 448.5h-5M1020 352.5h5M1034 352.5h-5M1020 256.5h5M1034 256.5h-5M1020 160.5h5M1034 160.5h-5M1022.5 161v5M1022.5 640v-5M1025.5 161v5M1025.5 640v-5M1028.5 161v5M1028.5 640v-5M1031.5 161v5M1031.5 640v-5" stroke="#000" stroke-width="0.8" fill="none"/>
<text x="1012.8" y="643.9" font-size="12.6" text-anchor="end" letter-spacing="0.3">−4</text><text x="1012.8" y="547.9" font-size="12.6" text-anchor="end" letter-spacing="0.3">−3</text><text x="1012.8" y="451.9" font-size="12.6" text-anchor="end" letter-spacing="0.3">−2</text><text x="1012.8" y="355.9" font-size="12.6" text-anchor="end" letter-spacing="0.3">−1</text><text x="1012.8" y="259.9" font-size="12.6" text-anchor="end" letter-spacing="0.3">0</text><text x="1012.8" y="163.9" font-size="12.6" text-anchor="end" letter-spacing="0.3">1</text>
<rect x="1018" y="646" width="1" height="1" fill="#aaa"/><rect x="1021" y="646" width="1" height="1" fill="#aaa"/><rect x="1024" y="646" width="1" height="1" fill="#aaa"/><rect x="1027" y="646" width="1" height="1" fill="#aaa"/><rect x="1030" y="646" width="1" height="1" fill="#aaa"/><rect x="1033" y="646" width="1" height="1" fill="#aaa"/>
<text transform="translate(984.1 400.0) rotate(-90)" font-size="12.6" text-anchor="middle" letter-spacing="0.72"><tspan>log</tspan><tspan font-size="8.6" dy="2.6">10</tspan><tspan dy="-2.6"> amplitude</tspan></text>
</svg>
</body></html>
